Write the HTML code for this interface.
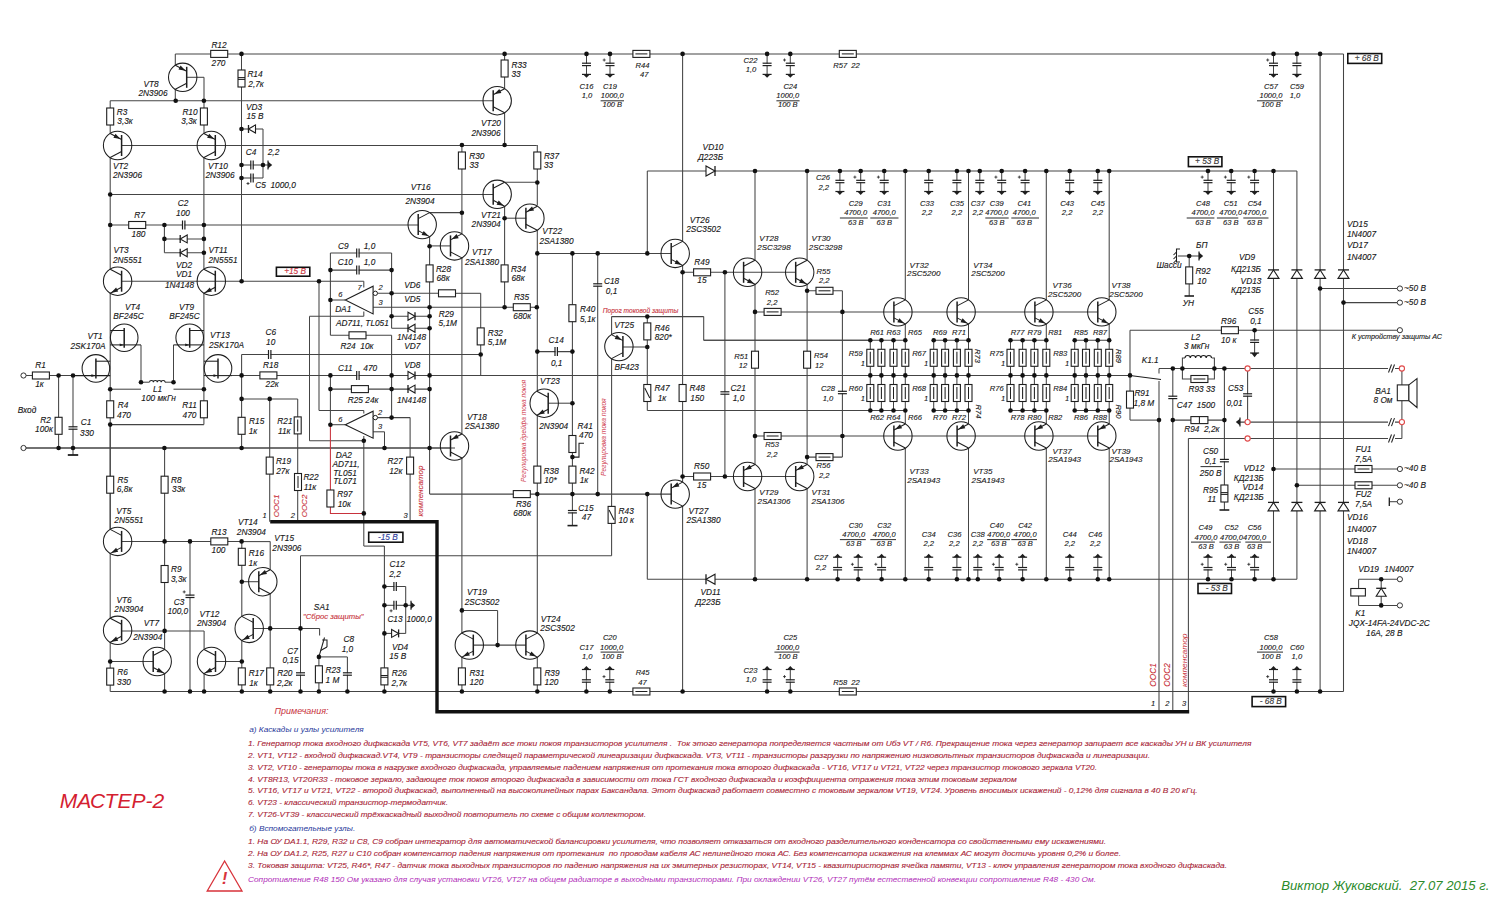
<!DOCTYPE html>
<html><head><meta charset="utf-8"><title>МАСТЕР-2</title>
<style>
html,body{margin:0;padding:0;background:#fff;}
svg{display:block;}
text{font-family:"Liberation Sans",sans-serif;font-style:italic;stroke-width:0.12px;paint-order:stroke;}
.w{fill:none;stroke:#444;stroke-width:1.05;}
.d{fill:#111;}
.r{fill:#fff;stroke:#1e1e1e;stroke-width:1.1;}
.c{fill:none;stroke:#1e1e1e;stroke-width:1.05;}
.f{fill:#1e1e1e;}
.dio{fill:#fff;stroke:#1e1e1e;stroke-width:1.1;}
</style></head><body>
<svg width="1500" height="914" viewBox="0 0 1500 914">
<polyline class="w" points="175.3,53.9 1343.5,53.9"/>
<polyline class="w" points="175.3,53.9 175.3,65.3"/>
<polyline class="w" points="186.7,77.3 204,77.3"/>
<polyline class="w" points="204,77.3 204,133.5"/>
<polyline class="w" points="175.3,89.3 175.3,100.7"/>
<polyline class="w" points="241.5,53.9 241.5,281.2"/>
<polyline class="w" points="110.2,100.7 493.2,100.7"/>
<polyline class="w" points="110.2,100.7 110.2,133.5"/>
<polyline class="w" points="121.6,145.5 536.8,145.5"/>
<polyline class="w" points="241.5,129 263,129"/>
<polyline class="w" points="263,129 263,178"/>
<polyline class="w" points="241.5,165 263,165"/>
<polyline class="w" points="263,165 268,165"/>
<polyline class="w" points="241.5,178 263,178"/>
<polyline class="w" points="110.2,157.5 110.2,269.2"/>
<polyline class="w" points="203.9,157.5 203.9,269.2"/>
<polyline class="w" points="110.2,194.5 493.2,194.5"/>
<polyline class="w" points="110.2,225 418.2,225"/>
<polyline class="w" points="164.4,225 164.4,252.7"/>
<polyline class="w" points="164.4,238.9 203.9,238.9"/>
<polyline class="w" points="164.4,252.7 203.9,252.7"/>
<polyline class="w" points="121.6,281.2 363.8,281.2"/>
<polyline class="w" points="363.8,281.2 363.8,287.5"/>
<polyline class="w" points="110.2,293.2 110.2,424.6"/>
<polyline class="w" points="203.9,293.2 203.9,424.6"/>
<polyline class="w" points="141,344.9 141,382.2"/>
<polyline class="w" points="141,382.2 149.5,382.2"/>
<polyline class="w" points="165,382.2 173.5,382.2"/>
<polyline class="w" points="173.5,344.9 173.5,382.2"/>
<polyline class="w" points="110.2,389.2 141,389.2"/>
<polyline class="w" points="173.5,389.2 203.9,389.2"/>
<polyline class="w" points="110.2,424.6 203.9,424.6"/>
<polyline class="w" points="26,375.5 73,375.5"/>
<polyline class="w" points="58.6,375.5 58.6,448"/>
<polyline class="w" points="73,375.5 73,455"/>
<polyline class="w" points="26,448 455,448"/>
<polyline class="w" points="110.2,424.6 110.2,529.4"/>
<polyline class="w" points="241.6,354.5 480.7,354.5"/>
<polyline class="w" points="241.6,354.5 241.6,448"/>
<polyline class="w" points="232,375.4 1130,375.4"/>
<polyline class="w" points="241.6,398.9 297.7,398.9"/>
<polyline class="w" points="297.7,398.9 297.7,521.7"/>
<polyline class="w" points="269.7,398.9 269.7,521.7"/>
<polyline class="w" points="330.4,253 391.6,253"/>
<polyline class="w" points="330.4,253 330.4,335.3"/>
<polyline class="w" points="391.6,253 391.6,328.2"/>
<polyline class="w" points="330.4,270.1 391.6,270.1"/>
<polyline class="w" points="319,281.2 319,410.5"/>
<polyline class="w" points="319,410.5 363.8,410.5"/>
<polyline class="w" points="363.8,410.5 363.8,413.5"/>
<polyline class="w" points="330.4,300 345.3,300"/>
<polyline class="w" points="377.5,293.3 438.5,293.3"/>
<polyline class="w" points="455.5,293.3 480.7,293.3"/>
<polyline class="w" points="480.7,293.3 480.7,375.4"/>
<polyline class="w" points="373.1,307.2 536.8,307.2"/>
<polyline class="w" points="309.5,316.3 363.8,316.3"/>
<polyline class="w" points="363.8,311.5 363.8,316.3"/>
<polyline class="w" points="309.5,316.3 309.5,440.8"/>
<polyline class="w" points="309.5,440.8 363.8,440.8"/>
<polyline class="w" points="363.8,436 363.8,546.1"/>
<polyline class="w" points="363.8,546.1 384.4,546.1"/>
<polyline class="w" points="330.4,335.3 391.6,335.3"/>
<polyline class="w" points="391.6,335.3 391.6,375.4"/>
<polyline class="w" points="391.6,316.3 429.6,316.3"/>
<polyline class="w" points="391.6,328.2 429.6,328.2"/>
<polyline class="w" points="330.4,389.1 429.6,389.1"/>
<polyline class="w" points="391.6,375.4 391.6,417.6"/>
<polyline class="w" points="330.4,375.4 330.4,424.7"/>
<polyline class="w" points="330.4,424.7 345.3,424.7"/>
<polyline class="w" points="377.5,417.6 410.1,417.6"/>
<polyline class="w" points="410.1,417.6 410.1,521.7"/>
<polyline class="w" points="373.1,431.8 384.5,431.8"/>
<polyline class="w" points="384.5,431.8 384.5,448"/>
<polyline class="w" points="504.6,53.9 504.6,88.7"/>
<polyline class="w" points="504.6,112.7 504.6,145"/>
<polyline class="w" points="537.3,145 537.3,205.4"/>
<polyline class="w" points="504.6,182.3 537.3,182.3"/>
<polyline class="w" points="504.6,206.3 504.6,307.2"/>
<polyline class="w" points="504.6,218.2 526.3,218.2"/>
<polyline class="w" points="429.6,212.6 461.9,212.6"/>
<polyline class="w" points="429.6,236.6 429.6,494.1"/>
<polyline class="w" points="429.6,245.9 450.5,245.9"/>
<polyline class="w" points="461.9,145 461.9,233.9"/>
<polyline class="w" points="461.9,257.9 461.9,434"/>
<polyline class="w" points="26,448 450.5,448"/>
<polyline class="w" points="461.9,458 461.9,633.1"/>
<polyline class="w" points="537.3,230.2 537.3,391.2"/>
<polyline class="w" points="537.3,253.4 671.2,253.4"/>
<polyline class="w" points="537.3,351.6 572.4,351.6"/>
<polyline class="w" points="572.4,253.4 572.4,525.6"/>
<polyline class="w" points="548.2,403.2 572.4,403.2"/>
<polyline class="w" points="537.3,415.2 537.3,633.1"/>
<polyline class="w" points="429.6,494.1 671.2,494.1"/>
<polyline class="w" points="597.7,253.4 597.7,494.1"/>
<polyline class="w" points="611.6,316.6 611.6,334.6"/>
<polyline class="w" points="611.6,316.6 703.7,316.6"/>
<polyline class="w" points="703.7,316.6 703.7,340.3"/>
<polyline class="w" points="703.7,340.3 870.3,340.3"/>
<polyline class="w" points="622.9,347 647.3,347"/>
<polyline class="w" points="647.3,316.6 647.3,410.5"/>
<polyline class="w" points="647.3,410.5 870.3,410.5"/>
<polyline class="w" points="611.6,358.6 611.6,555.8"/>
<polyline class="w" points="300.5,555.8 611.6,555.8"/>
<polyline class="w" points="300.5,555.8 300.5,691.5"/>
<polyline class="w" points="647.3,171 647.3,253.4"/>
<polyline class="w" points="647.3,171 1296.9,171"/>
<polyline class="w" points="682.6,53.9 682.6,241.4"/>
<polyline class="w" points="682.6,265.4 682.6,482.1"/>
<polyline class="w" points="682.6,272.3 795.7,272.3"/>
<polyline class="w" points="724.9,272.3 724.9,476.5"/>
<polyline class="w" points="682.6,476.5 795.7,476.5"/>
<polyline class="w" points="682.6,506.1 682.6,691.5"/>
<polyline class="w" points="647.3,494.1 647.3,579.2"/>
<polyline class="w" points="647.3,579.2 1296.9,579.2"/>
<polyline class="w" points="461.9,610.4 497.6,610.4"/>
<polyline class="w" points="497.6,610.4 497.6,645.1"/>
<polyline class="w" points="473.3,645.1 525.9,645.1"/>
<polyline class="w" points="461.9,657.1 461.9,691.5"/>
<polyline class="w" points="537.3,657.1 537.3,691.5"/>
<polyline class="w" points="110.2,424.6 110.2,529.4"/>
<polyline class="w" points="110.2,553.4 110.2,618.3"/>
<polyline class="w" points="110.2,642.3 110.2,691.5"/>
<polyline class="w" points="110.2,661.5 153.2,661.5"/>
<polyline class="w" points="164.6,448 164.6,649.5"/>
<polyline class="w" points="164.6,673.5 164.6,691.5"/>
<polyline class="w" points="121.6,541.4 241.6,541.4"/>
<polyline class="w" points="190,541.4 190,691.5"/>
<polyline class="w" points="121.6,630.9 204.1,630.9"/>
<polyline class="w" points="204.1,630.9 204.1,649.5"/>
<polyline class="w" points="204.1,673.5 204.1,691.5"/>
<polyline class="w" points="215.5,661.5 241.8,661.5"/>
<polyline class="w" points="241.8,541.4 241.8,616.4"/>
<polyline class="w" points="241.8,640.4 241.8,691.5"/>
<polyline class="w" points="241.6,541.6 270.2,541.6"/>
<polyline class="w" points="270.2,541.6 270.2,569.7"/>
<polyline class="w" points="241.8,581.7 258.8,581.7"/>
<polyline class="w" points="270.2,593.7 270.2,691.5"/>
<polyline class="w" points="253.2,628.4 319.6,628.4"/>
<polyline class="w" points="319.6,628.4 319.6,635.5"/>
<polyline class="w" points="318.9,656.9 347.4,656.9"/>
<polyline class="w" points="347.4,656.9 347.4,691.5"/>
<polyline class="w" points="318.9,656.9 318.9,691.5"/>
<polyline class="w" points="384.4,546.1 384.4,691.5"/>
<polyline class="w" points="384.4,586.5 405.7,586.5"/>
<polyline class="w" points="405.7,586.5 405.7,633.4"/>
<polyline class="w" points="384.4,605.3 405.7,605.3"/>
<polyline class="w" points="405.7,605.3 411,605.3"/>
<polyline class="w" points="384.4,633.4 405.7,633.4"/>
<polyline class="w" points="110.2,691.5 1343.5,691.5"/>
<polyline class="w" points="586.5,53.9 586.5,74.4"/>
<polyline class="w" points="610,53.9 610,74.4"/>
<polyline class="w" points="767.1,53.9 767.1,74.4"/>
<polyline class="w" points="790.3,53.9 790.3,74.4"/>
<polyline class="w" points="1273.5,53.9 1273.5,74.4"/>
<polyline class="w" points="1296.9,53.9 1296.9,74.4"/>
<polyline class="w" points="1320.1,53.9 1320.1,691.5"/>
<polyline class="w" points="1343.5,53.9 1343.5,691.5"/>
<polyline class="w" points="839.9,171 839.9,191.5"/>
<polyline class="w" points="860.7,171 860.7,191.5"/>
<polyline class="w" points="884.2,171 884.2,191.5"/>
<polyline class="w" points="928.7,171 928.7,191.5"/>
<polyline class="w" points="956.9,171 956.9,191.5"/>
<polyline class="w" points="979.8,171 979.8,191.5"/>
<polyline class="w" points="1001.7,171 1001.7,191.5"/>
<polyline class="w" points="1025.1,171 1025.1,191.5"/>
<polyline class="w" points="1069.7,171 1069.7,191.5"/>
<polyline class="w" points="1097.8,171 1097.8,191.5"/>
<polyline class="w" points="1208,171 1208,191.5"/>
<polyline class="w" points="1231.2,171 1231.2,191.5"/>
<polyline class="w" points="1254.6,171 1254.6,191.5"/>
<polyline class="w" points="1296.9,171 1296.9,579.2"/>
<polyline class="w" points="1273.5,171 1273.5,579.2"/>
<polyline class="w" points="755,171 755,260.3"/>
<polyline class="w" points="807.1,171 807.1,260.3"/>
<polyline class="w" points="755,284.3 755,464.5"/>
<polyline class="w" points="807.1,284.3 807.1,464.5"/>
<polyline class="w" points="807.1,290.8 842.4,290.8"/>
<polyline class="w" points="842.4,290.8 842.4,457.1"/>
<polyline class="w" points="755,311.9 1097.8,311.9"/>
<polyline class="w" points="755,436 1097.8,436"/>
<polyline class="w" points="807.1,457.1 842.4,457.1"/>
<polyline class="w" points="755,488.5 755,579.2"/>
<polyline class="w" points="807.1,488.5 807.1,579.2"/>
<polyline class="w" points="905.3,171 905.3,299.9"/>
<polyline class="w" points="905.3,323.9 905.3,340.3"/>
<polyline class="w" points="870.3,340.3 905.3,340.3"/>
<polyline class="w" points="870.3,410.5 905.3,410.5"/>
<polyline class="w" points="870.3,340.3 870.3,410.5"/>
<polyline class="w" points="881.4,340.3 881.4,410.5"/>
<polyline class="w" points="893.5,340.3 893.5,410.5"/>
<polyline class="w" points="905.3,340.3 905.3,410.5"/>
<polyline class="w" points="905.3,410.5 905.3,424"/>
<polyline class="w" points="905.3,448 905.3,579.2"/>
<polyline class="w" points="968.5,171 968.5,299.9"/>
<polyline class="w" points="968.5,323.9 968.5,340.3"/>
<polyline class="w" points="933.7,340.3 968.5,340.3"/>
<polyline class="w" points="933.7,410.5 968.5,410.5"/>
<polyline class="w" points="933.7,340.3 933.7,410.5"/>
<polyline class="w" points="945.1,340.3 945.1,410.5"/>
<polyline class="w" points="956.9,340.3 956.9,410.5"/>
<polyline class="w" points="968.5,340.3 968.5,410.5"/>
<polyline class="w" points="968.5,410.5 968.5,424"/>
<polyline class="w" points="968.5,448 968.5,579.2"/>
<polyline class="w" points="1046.3,171 1046.3,299.9"/>
<polyline class="w" points="1046.3,323.9 1046.3,340.3"/>
<polyline class="w" points="1010.5,340.3 1046.3,340.3"/>
<polyline class="w" points="1010.5,410.5 1046.3,410.5"/>
<polyline class="w" points="1010.5,340.3 1010.5,410.5"/>
<polyline class="w" points="1022.6,340.3 1022.6,410.5"/>
<polyline class="w" points="1034.4,340.3 1034.4,410.5"/>
<polyline class="w" points="1046.3,340.3 1046.3,410.5"/>
<polyline class="w" points="1046.3,410.5 1046.3,424"/>
<polyline class="w" points="1046.3,448 1046.3,579.2"/>
<polyline class="w" points="1109.2,171 1109.2,299.9"/>
<polyline class="w" points="1109.2,323.9 1109.2,340.3"/>
<polyline class="w" points="1074.7,340.3 1109.2,340.3"/>
<polyline class="w" points="1074.7,410.5 1109.2,410.5"/>
<polyline class="w" points="1074.7,340.3 1074.7,410.5"/>
<polyline class="w" points="1086,340.3 1086,410.5"/>
<polyline class="w" points="1097.8,340.3 1097.8,410.5"/>
<polyline class="w" points="1109.2,340.3 1109.2,410.5"/>
<polyline class="w" points="1109.2,410.5 1109.2,424"/>
<polyline class="w" points="1109.2,448 1109.2,579.2"/>
<polyline class="w" points="703.7,340.3 870.3,340.3"/>
<polyline class="w" points="837.6,557.2 837.6,579.2"/>
<polyline class="w" points="858.2,557.2 858.2,579.2"/>
<polyline class="w" points="881.6,557.2 881.6,579.2"/>
<polyline class="w" points="928.7,557.2 928.7,579.2"/>
<polyline class="w" points="956.9,557.2 956.9,579.2"/>
<polyline class="w" points="977.8,557.2 977.8,579.2"/>
<polyline class="w" points="999.2,557.2 999.2,579.2"/>
<polyline class="w" points="1022.6,557.2 1022.6,579.2"/>
<polyline class="w" points="1069.7,557.2 1069.7,579.2"/>
<polyline class="w" points="1097.8,557.2 1097.8,579.2"/>
<polyline class="w" points="1208,557.2 1208,579.2"/>
<polyline class="w" points="1231.5,557.2 1231.5,579.2"/>
<polyline class="w" points="1254.6,557.2 1254.6,579.2"/>
<polyline class="w" points="586.4,669.5 586.4,691.5"/>
<polyline class="w" points="609.8,669.5 609.8,691.5"/>
<polyline class="w" points="767.1,669.5 767.1,691.5"/>
<polyline class="w" points="790.3,669.5 790.3,691.5"/>
<polyline class="w" points="1273.5,669.5 1273.5,691.5"/>
<polyline class="w" points="1296.9,669.5 1296.9,691.5"/>
<polyline class="w" points="1320.1,288.5 1397.3,288.5"/>
<polyline class="w" points="1343.5,302.6 1397.3,302.6"/>
<polyline class="w" points="1177.9,256 1199,256"/>
<polyline class="w" points="1189.2,256 1189.2,296"/>
<polyline class="w" points="1130,330.2 1397.3,330.2"/>
<polyline class="w" points="1254.6,330.2 1254.6,353"/>
<polyline class="w" points="1130,330.2 1130,420.1"/>
<polyline class="w" points="1159,368.5 1159,373.5"/>
<polyline class="w" points="1159,381 1159,711.7"/>
<polyline class="w" points="1130,420.1 1159,420.1"/>
<polyline class="w" points="1159,368.5 1401.9,368.5"/>
<polyline class="w" points="1172.8,368.5 1172.8,711.7"/>
<polyline class="w" points="1182.4,368.5 1182.4,358 1185,358"/>
<polyline class="w" points="1211.5,358 1214.4,358 1214.4,368.5"/>
<polyline class="w" points="1182.4,368.5 1182.4,379 1214.4,379 1214.4,368.5"/>
<polyline class="w" points="1172.8,420.1 1224.4,420.1"/>
<polyline class="w" points="1224.4,368.5 1224.4,510"/>
<polyline class="w" points="1247.6,368.5 1247.6,422.1"/>
<polyline class="w" points="1240,422.1 1401.9,422.1"/>
<polyline class="w" points="1188.4,438.5 1401.9,438.5"/>
<polyline class="w" points="1188.4,438.5 1188.4,711.7"/>
<polyline class="w" points="1401.9,368.5 1401.9,384.9"/>
<polyline class="w" points="1401.9,400.7 1401.9,438.5"/>
<polyline class="w" points="1273.5,469 1397.3,469"/>
<polyline class="w" points="1296.9,485.3 1397.3,485.3"/>
<polyline class="w" points="1389.3,501.7 1397.3,501.7"/>
<polyline class="w" points="1358.6,579.2 1397.3,579.2"/>
<polyline class="w" points="1358.6,579.2 1358.6,605.4"/>
<polyline class="w" points="1358.6,605.4 1397.3,605.4"/>
<polyline class="w" points="1381.2,579.2 1381.2,605.4"/>
<circle class="c" cx="182.7" cy="77.3" r="14.2"/>
<polyline class="w" points="186.7,66.8 186.7,87.8" style="stroke:#1e1e1e;stroke-width:1.5"/>
<polyline class="w" points="186.7,71.3 175.3,65.3" style="stroke:#1e1e1e"/>
<polyline class="w" points="186.7,83.3 175.3,89.3" style="stroke:#1e1e1e"/>
<polygon class="f" points="185.6,70.7 178.5,69.6 180.6,65.5"/>
<rect class="r" x="210.7" y="50.4" width="17" height="7"/>
<rect class="r" x="238" y="70" width="7" height="17"/>
<polyline class="w" points="238,77.6 245,77.6" style="stroke:#1e1e1e"/>
<polyline class="w" points="238,79.4 245,79.4" style="stroke:#1e1e1e"/>
<rect class="r" x="106.7" y="108" width="7" height="17"/>
<rect class="r" x="200.4" y="108" width="7" height="17"/>
<circle class="c" cx="117.6" cy="145.5" r="14.2"/>
<polyline class="w" points="121.6,135 121.6,156" style="stroke:#1e1e1e;stroke-width:1.5"/>
<polyline class="w" points="121.6,139.5 110.2,133.5" style="stroke:#1e1e1e"/>
<polyline class="w" points="121.6,151.5 110.2,157.5" style="stroke:#1e1e1e"/>
<polygon class="f" points="120.5,138.9 113.4,137.8 115.5,133.7"/>
<circle class="c" cx="211.3" cy="145.5" r="14.2"/>
<polyline class="w" points="215.3,135 215.3,156" style="stroke:#1e1e1e;stroke-width:1.5"/>
<polyline class="w" points="215.3,139.5 203.9,133.5" style="stroke:#1e1e1e"/>
<polyline class="w" points="215.3,151.5 203.9,157.5" style="stroke:#1e1e1e"/>
<polygon class="f" points="214.2,138.9 207.1,137.8 209.2,133.7"/>
<polygon class="dio" points="255.5,125 255.5,133 248.5,129"/>
<polyline class="w" points="248.5,125 248.5,133" style="stroke:#1e1e1e;stroke-width:1.3"/>
<rect x="251.3" y="160.5" width="1.4" height="9" fill="#fff"/>
<polyline class="w" points="250.8,160.5 250.8,169.5" style="stroke:#1e1e1e;stroke-width:1.2"/>
<polyline class="w" points="253.2,160.5 253.2,169.5" style="stroke:#1e1e1e;stroke-width:1.2"/>
<polyline class="w" points="268,160.5 268,169.5" style="stroke:#1e1e1e;stroke-width:1.2"/>
<polygon class="f" points="268,161.6 268,168.4 272.2,165"/>
<rect x="251.3" y="173.5" width="1.4" height="9" fill="#fff"/>
<polyline class="w" points="250.8,173.5 250.8,182.5" style="stroke:#1e1e1e;stroke-width:1.2"/>
<polyline class="w" points="253.2,173.5 253.2,182.5" style="stroke:#1e1e1e;stroke-width:1.2"/>
<polyline class="w" points="246.5,183.5 249.5,183.5" style="stroke:#222;stroke-width:0.8"/>
<polyline class="w" points="248,182 248,185" style="stroke:#222;stroke-width:0.8"/>
<rect class="r" x="128.7" y="221.5" width="17" height="7"/>
<rect x="183" y="220.5" width="1.4" height="9" fill="#fff"/>
<polyline class="w" points="182.5,220.5 182.5,229.5" style="stroke:#1e1e1e;stroke-width:1.2"/>
<polyline class="w" points="184.9,220.5 184.9,229.5" style="stroke:#1e1e1e;stroke-width:1.2"/>
<polygon class="dio" points="187.2,234.9 187.2,242.9 180.2,238.9"/>
<polyline class="w" points="180.2,234.9 180.2,242.9" style="stroke:#1e1e1e;stroke-width:1.3"/>
<polygon class="dio" points="187.2,248.7 187.2,256.7 180.2,252.7"/>
<polyline class="w" points="180.2,248.7 180.2,256.7" style="stroke:#1e1e1e;stroke-width:1.3"/>
<circle class="c" cx="117.6" cy="281.2" r="14.2"/>
<polyline class="w" points="121.6,270.7 121.6,291.7" style="stroke:#1e1e1e;stroke-width:1.5"/>
<polyline class="w" points="121.6,275.2 110.2,269.2" style="stroke:#1e1e1e"/>
<polyline class="w" points="121.6,287.2 110.2,293.2" style="stroke:#1e1e1e"/>
<polygon class="f" points="111.1,292.7 116.1,287.5 118.2,291.6"/>
<circle class="c" cx="211.3" cy="281.2" r="14.2"/>
<polyline class="w" points="215.3,270.7 215.3,291.7" style="stroke:#1e1e1e;stroke-width:1.5"/>
<polyline class="w" points="215.3,275.2 203.9,269.2" style="stroke:#1e1e1e"/>
<polyline class="w" points="215.3,287.2 203.9,293.2" style="stroke:#1e1e1e"/>
<polygon class="f" points="204.8,292.7 209.8,287.5 211.9,291.6"/>
<circle class="c" cx="124.2" cy="337.7" r="13.8"/>
<polyline class="w" points="124.2,327.9 124.2,347.7" style="stroke:#1e1e1e;stroke-width:1.5"/>
<polyline class="w" points="124.2,330.5 110.2,330.5" style="stroke:#1e1e1e"/>
<polyline class="w" points="110.2,344.9 141,344.9" style="stroke:#1e1e1e"/>
<polygon class="f" points="119.7,343.5 119.7,346.3 123.7,344.9"/>
<circle class="c" cx="189.7" cy="337.7" r="13.8"/>
<polyline class="w" points="189.7,327.9 189.7,347.7" style="stroke:#1e1e1e;stroke-width:1.5"/>
<polyline class="w" points="189.7,330.5 203.9,330.5" style="stroke:#1e1e1e"/>
<polyline class="w" points="173.5,344.9 203.9,344.9" style="stroke:#1e1e1e"/>
<polygon class="f" points="185.2,343.5 185.2,346.3 189.2,344.9"/>
<circle class="c" cx="95.9" cy="368.4" r="13.8"/>
<polyline class="w" points="95.9,358.6 95.9,378.4" style="stroke:#1e1e1e;stroke-width:1.5"/>
<polyline class="w" points="95.9,361.2 110.2,361.2" style="stroke:#1e1e1e"/>
<polyline class="w" points="73,375.6 110.2,375.6" style="stroke:#1e1e1e"/>
<polygon class="f" points="91.4,374.2 91.4,377 95.4,375.6"/>
<circle class="c" cx="218" cy="368.4" r="13.8"/>
<polyline class="w" points="218,358.6 218,378.4" style="stroke:#1e1e1e;stroke-width:1.5"/>
<polyline class="w" points="218,361.2 203.9,361.2" style="stroke:#1e1e1e"/>
<polyline class="w" points="203.9,375.6 232,375.6" style="stroke:#1e1e1e"/>
<polygon class="f" points="213.5,374.2 213.5,377 217.5,375.6"/>
<rect x="149.5" y="378.2" width="15.5" height="5" fill="#fff"/>
<path d="M149.5,382.2 a1.9,1.7 0 0 1 3.9,0 a1.9,1.7 0 0 1 3.9,0 a1.9,1.7 0 0 1 3.9,0 a1.9,1.7 0 0 1 3.9,0" fill="none" stroke="#1e1e1e" stroke-width="1.1"/>
<rect class="r" x="106.7" y="400.8" width="7" height="17"/>
<rect class="r" x="200.4" y="400.8" width="7" height="17"/>
<circle cx="23.5" cy="375.5" r="2.6" fill="#fff" stroke="#333" stroke-width="1"/>
<rect class="r" x="32.4" y="372" width="17" height="7"/>
<rect class="r" x="55.1" y="417.3" width="7" height="17"/>
<rect x="68.5" y="427.3" width="9" height="1.4" fill="#fff"/>
<polyline class="w" points="68.5,426.8 77.5,426.8" style="stroke:#1e1e1e;stroke-width:1.2"/>
<polyline class="w" points="68.5,429.2 77.5,429.2" style="stroke:#1e1e1e;stroke-width:1.2"/>
<polyline class="w" points="67.8,455 78.2,455" style="stroke:#1e1e1e;stroke-width:1.8"/>
<circle cx="23.5" cy="448" r="2.6" fill="#fff" stroke="#333" stroke-width="1"/>
<rect x="269" y="350" width="1.4" height="9" fill="#fff"/>
<polyline class="w" points="268.5,350 268.5,359" style="stroke:#1e1e1e;stroke-width:1.2"/>
<polyline class="w" points="270.9,350 270.9,359" style="stroke:#1e1e1e;stroke-width:1.2"/>
<rect class="r" x="259.9" y="371.9" width="17" height="7"/>
<rect class="r" x="238.1" y="417.3" width="7" height="17"/>
<rect class="r" x="294.2" y="416.9" width="7" height="17"/>
<polyline class="w" points="297.7,419.4 297.7,431.4" style="stroke:#1e1e1e"/>
<rect class="r" x="266.2" y="457.1" width="7" height="17"/>
<rect class="r" x="294.5" y="473.5" width="7" height="17"/>
<polyline class="w" points="298,476 298,488" style="stroke:#1e1e1e"/>
<polyline class="w" points="270.2,521.7 437,521.7 437,711.7 1189.2,711.7" style="stroke:#111;stroke-width:3.4"/>
<rect x="357.2" y="248.5" width="1.4" height="9" fill="#fff"/>
<polyline class="w" points="356.7,248.5 356.7,257.5" style="stroke:#1e1e1e;stroke-width:1.2"/>
<polyline class="w" points="359.1,248.5 359.1,257.5" style="stroke:#1e1e1e;stroke-width:1.2"/>
<rect x="357.2" y="265.6" width="1.4" height="9" fill="#fff"/>
<polyline class="w" points="356.7,265.6 356.7,274.6" style="stroke:#1e1e1e;stroke-width:1.2"/>
<polyline class="w" points="359.1,265.6 359.1,274.6" style="stroke:#1e1e1e;stroke-width:1.2"/>
<rect x="276.4" y="267.3" width="33.4" height="8.9" fill="#fff" stroke="#111" stroke-width="1.6"/>
<polygon class="dio" points="345.3,300 373.1,286.2 373.1,313.9"/>
<circle cx="375.3" cy="293.3" r="2.2" fill="#fff" stroke="#1e1e1e" stroke-width="1"/>
<rect class="r" x="438.5" y="289.8" width="17" height="7"/>
<rect class="r" x="477.2" y="327.9" width="7" height="17"/>
<rect class="r" x="513.3" y="303.7" width="17" height="7"/>
<rect class="r" x="349" y="331.8" width="17" height="7"/>
<polygon class="dio" points="408,312.3 408,320.3 415,316.3"/>
<polyline class="w" points="415,312.3 415,320.3" style="stroke:#1e1e1e;stroke-width:1.3"/>
<polygon class="dio" points="415,324.2 415,332.2 408,328.2"/>
<polyline class="w" points="408,324.2 408,332.2" style="stroke:#1e1e1e;stroke-width:1.3"/>
<rect x="357.2" y="370.9" width="1.4" height="9" fill="#fff"/>
<polyline class="w" points="356.7,370.9 356.7,379.9" style="stroke:#1e1e1e;stroke-width:1.2"/>
<polyline class="w" points="359.1,370.9 359.1,379.9" style="stroke:#1e1e1e;stroke-width:1.2"/>
<polygon class="dio" points="408,371.4 408,379.4 415,375.4"/>
<polyline class="w" points="415,371.4 415,379.4" style="stroke:#1e1e1e;stroke-width:1.3"/>
<rect class="r" x="351.4" y="385.6" width="17" height="7"/>
<polygon class="dio" points="415,385.1 415,393.1 408,389.1"/>
<polyline class="w" points="408,385.1 408,393.1" style="stroke:#1e1e1e;stroke-width:1.3"/>
<polyline class="w" points="330.4,424.7 330.4,513.4 363.8,513.4" style="stroke:#c8323c"/>
<polygon class="dio" points="345.3,424.7 373.1,411.2 373.1,438.2"/>
<circle cx="375.3" cy="417.6" r="2.2" fill="#fff" stroke="#1e1e1e" stroke-width="1"/>
<rect class="r" x="406.6" y="457.1" width="7" height="17"/>
<rect class="r" x="326.9" y="490" width="7" height="17"/>
<rect class="r" x="501.1" y="60" width="7" height="17"/>
<circle class="c" cx="497.2" cy="100.7" r="14.2"/>
<polyline class="w" points="493.2,90.2 493.2,111.2" style="stroke:#1e1e1e;stroke-width:1.5"/>
<polyline class="w" points="493.2,94.7 504.6,88.7" style="stroke:#1e1e1e"/>
<polyline class="w" points="493.2,106.7 504.6,112.7" style="stroke:#1e1e1e"/>
<polygon class="f" points="494.3,94.1 499.3,88.9 501.4,93"/>
<rect class="r" x="458.4" y="152" width="7" height="17"/>
<rect class="r" x="533.8" y="152" width="7" height="17"/>
<circle class="c" cx="497.2" cy="194.3" r="14.2"/>
<polyline class="w" points="493.2,183.8 493.2,204.8" style="stroke:#1e1e1e;stroke-width:1.5"/>
<polyline class="w" points="493.2,188.3 504.6,182.3" style="stroke:#1e1e1e"/>
<polyline class="w" points="493.2,200.3 504.6,206.3" style="stroke:#1e1e1e"/>
<polygon class="f" points="503.7,205.8 496.6,204.7 498.7,200.6"/>
<circle class="c" cx="529.9" cy="218.2" r="14.2"/>
<polyline class="w" points="525.9,207.7 525.9,228.7" style="stroke:#1e1e1e;stroke-width:1.5"/>
<polyline class="w" points="525.9,212.2 537.3,206.2" style="stroke:#1e1e1e"/>
<polyline class="w" points="525.9,224.2 537.3,230.2" style="stroke:#1e1e1e"/>
<polygon class="f" points="527,211.6 532,206.4 534.1,210.5"/>
<circle class="c" cx="422.2" cy="224.6" r="14.2"/>
<polyline class="w" points="418.2,214.1 418.2,235.1" style="stroke:#1e1e1e;stroke-width:1.5"/>
<polyline class="w" points="418.2,218.6 429.6,212.6" style="stroke:#1e1e1e"/>
<polyline class="w" points="418.2,230.6 429.6,236.6" style="stroke:#1e1e1e"/>
<polygon class="f" points="428.7,236.1 421.6,235 423.7,230.9"/>
<circle class="c" cx="454.5" cy="245.9" r="14.2"/>
<polyline class="w" points="450.5,235.4 450.5,256.4" style="stroke:#1e1e1e;stroke-width:1.5"/>
<polyline class="w" points="450.5,239.9 461.9,233.9" style="stroke:#1e1e1e"/>
<polyline class="w" points="450.5,251.9 461.9,257.9" style="stroke:#1e1e1e"/>
<polygon class="f" points="451.6,239.3 456.6,234.1 458.7,238.2"/>
<rect class="r" x="426.1" y="264.9" width="7" height="17"/>
<rect class="r" x="501.1" y="264.9" width="7" height="17"/>
<circle class="c" cx="454.5" cy="446" r="14.2"/>
<polyline class="w" points="450.5,435.5 450.5,456.5" style="stroke:#1e1e1e;stroke-width:1.5"/>
<polyline class="w" points="450.5,440 461.9,434" style="stroke:#1e1e1e"/>
<polyline class="w" points="450.5,452 461.9,458" style="stroke:#1e1e1e"/>
<polygon class="f" points="451.6,439.4 456.6,434.2 458.7,438.3"/>
<rect x="555.5" y="347.1" width="1.4" height="9" fill="#fff"/>
<polyline class="w" points="555,347.1 555,356.1" style="stroke:#1e1e1e;stroke-width:1.2"/>
<polyline class="w" points="557.4,347.1 557.4,356.1" style="stroke:#1e1e1e;stroke-width:1.2"/>
<rect class="r" x="568.9" y="304.7" width="7" height="17"/>
<circle class="c" cx="544.2" cy="403.2" r="14.2"/>
<polyline class="w" points="548.2,392.7 548.2,413.7" style="stroke:#1e1e1e;stroke-width:1.5"/>
<polyline class="w" points="548.2,397.2 536.8,391.2" style="stroke:#1e1e1e"/>
<polyline class="w" points="548.2,409.2 536.8,415.2" style="stroke:#1e1e1e"/>
<polygon class="f" points="537.7,414.7 542.7,409.5 544.8,413.6"/>
<rect class="r" x="568.9" y="435.5" width="7" height="17"/>
<polyline class="w" points="584,443.2 579,443.2 579,457.1 572.4,457.1" style="stroke:#1e1e1e"/>
<rect class="r" x="568.9" y="466.1" width="7" height="17"/>
<rect x="567.9" y="511" width="9" height="1.4" fill="#fff"/>
<polyline class="w" points="567.9,510.5 576.9,510.5" style="stroke:#1e1e1e;stroke-width:1.2"/>
<polyline class="w" points="567.9,512.9 576.9,512.9" style="stroke:#1e1e1e;stroke-width:1.2"/>
<polyline class="w" points="567.5,525.6 577.5,525.6" style="stroke:#1e1e1e;stroke-width:1.6"/>
<rect class="r" x="533.8" y="466.1" width="7" height="17"/>
<rect class="r" x="513.3" y="490.6" width="17" height="7"/>
<rect x="593.2" y="284.3" width="9" height="1.4" fill="#fff"/>
<polyline class="w" points="593.2,283.8 602.2,283.8" style="stroke:#1e1e1e;stroke-width:1.2"/>
<polyline class="w" points="593.2,286.2 602.2,286.2" style="stroke:#1e1e1e;stroke-width:1.2"/>
<circle class="c" cx="618.9" cy="346.6" r="14.2"/>
<polyline class="w" points="622.9,336.1 622.9,357.1" style="stroke:#1e1e1e;stroke-width:1.5"/>
<polyline class="w" points="622.9,340.6 611.5,334.6" style="stroke:#1e1e1e"/>
<polyline class="w" points="622.9,352.6 611.5,358.6" style="stroke:#1e1e1e"/>
<polygon class="f" points="621.8,340 614.7,338.9 616.8,334.8"/>
<rect class="r" x="643.8" y="322.9" width="7" height="17"/>
<rect class="r" x="643.8" y="384.5" width="7" height="17"/>
<polyline class="w" points="644.8,388 649.8,398" style="stroke:#1e1e1e"/>
<rect class="r" x="608.1" y="506.4" width="7" height="17"/>
<polyline class="w" points="609.1,509.9 614.1,519.9" style="stroke:#1e1e1e"/>
<polygon class="dio" points="706,166 706,176 715,171"/>
<polyline class="w" points="715,166 715,176" style="stroke:#1e1e1e;stroke-width:1.3"/>
<circle class="c" cx="675.2" cy="253.4" r="14.2"/>
<polyline class="w" points="671.2,242.9 671.2,263.9" style="stroke:#1e1e1e;stroke-width:1.5"/>
<polyline class="w" points="671.2,247.4 682.6,241.4" style="stroke:#1e1e1e"/>
<polyline class="w" points="671.2,259.4 682.6,265.4" style="stroke:#1e1e1e"/>
<polygon class="f" points="681.7,264.9 674.6,263.8 676.7,259.7"/>
<rect class="r" x="693.6" y="268.8" width="17" height="7"/>
<rect x="720.4" y="392.3" width="9" height="1.4" fill="#fff"/>
<polyline class="w" points="720.4,391.8 729.4,391.8" style="stroke:#1e1e1e;stroke-width:1.2"/>
<polyline class="w" points="720.4,394.2 729.4,394.2" style="stroke:#1e1e1e;stroke-width:1.2"/>
<rect class="r" x="679.1" y="384.5" width="7" height="17"/>
<circle class="c" cx="675.2" cy="494.1" r="14.2"/>
<polyline class="w" points="671.2,483.6 671.2,504.6" style="stroke:#1e1e1e;stroke-width:1.5"/>
<polyline class="w" points="671.2,488.1 682.6,482.1" style="stroke:#1e1e1e"/>
<polyline class="w" points="671.2,500.1 682.6,506.1" style="stroke:#1e1e1e"/>
<polygon class="f" points="672.3,487.5 677.3,482.3 679.4,486.4"/>
<rect class="r" x="693.6" y="473" width="17" height="7"/>
<polygon class="dio" points="715,574.2 715,584.2 706,579.2"/>
<polyline class="w" points="706,574.2 706,584.2" style="stroke:#1e1e1e;stroke-width:1.3"/>
<circle class="c" cx="469.3" cy="645.1" r="14.2"/>
<polyline class="w" points="473.3,634.6 473.3,655.6" style="stroke:#1e1e1e;stroke-width:1.5"/>
<polyline class="w" points="473.3,639.1 461.9,633.1" style="stroke:#1e1e1e"/>
<polyline class="w" points="473.3,651.1 461.9,657.1" style="stroke:#1e1e1e"/>
<polygon class="f" points="462.8,656.6 467.8,651.4 469.9,655.5"/>
<circle class="c" cx="529.9" cy="645.1" r="14.2"/>
<polyline class="w" points="525.9,634.6 525.9,655.6" style="stroke:#1e1e1e;stroke-width:1.5"/>
<polyline class="w" points="525.9,639.1 537.3,633.1" style="stroke:#1e1e1e"/>
<polyline class="w" points="525.9,651.1 537.3,657.1" style="stroke:#1e1e1e"/>
<polygon class="f" points="536.4,656.6 529.3,655.5 531.4,651.4"/>
<rect class="r" x="458.4" y="667.9" width="7" height="17"/>
<rect class="r" x="533.8" y="667.9" width="7" height="17"/>
<rect class="r" x="106.7" y="476.2" width="7" height="17"/>
<circle class="c" cx="117.6" cy="541.4" r="14.2"/>
<polyline class="w" points="121.6,530.9 121.6,551.9" style="stroke:#1e1e1e;stroke-width:1.5"/>
<polyline class="w" points="121.6,535.4 110.2,529.4" style="stroke:#1e1e1e"/>
<polyline class="w" points="121.6,547.4 110.2,553.4" style="stroke:#1e1e1e"/>
<polygon class="f" points="111.1,552.9 116.1,547.7 118.2,551.8"/>
<circle class="c" cx="117.6" cy="630.3" r="14.2"/>
<polyline class="w" points="121.6,619.8 121.6,640.8" style="stroke:#1e1e1e;stroke-width:1.5"/>
<polyline class="w" points="121.6,624.3 110.2,618.3" style="stroke:#1e1e1e"/>
<polyline class="w" points="121.6,636.3 110.2,642.3" style="stroke:#1e1e1e"/>
<polygon class="f" points="111.1,641.8 116.1,636.6 118.2,640.7"/>
<rect class="r" x="106.7" y="668.1" width="7" height="17"/>
<circle class="c" cx="157.2" cy="661.5" r="14.2"/>
<polyline class="w" points="153.2,651 153.2,672" style="stroke:#1e1e1e;stroke-width:1.5"/>
<polyline class="w" points="153.2,655.5 164.6,649.5" style="stroke:#1e1e1e"/>
<polyline class="w" points="153.2,667.5 164.6,673.5" style="stroke:#1e1e1e"/>
<polygon class="f" points="163.7,673 156.6,671.9 158.7,667.8"/>
<rect class="r" x="161.1" y="476.2" width="7" height="17"/>
<rect class="r" x="161.1" y="565.5" width="7" height="17"/>
<rect class="r" x="210.8" y="537.9" width="17" height="7"/>
<rect x="185.5" y="595.6" width="9" height="1.4" fill="#fff"/>
<polyline class="w" points="185.5,595.1 194.5,595.1" style="stroke:#1e1e1e;stroke-width:1.2"/>
<polyline class="w" points="185.5,597.5 194.5,597.5" style="stroke:#1e1e1e;stroke-width:1.2"/>
<polyline class="w" points="182.7,591.9 185.7,591.9" style="stroke:#222;stroke-width:0.8"/>
<polyline class="w" points="184.2,590.4 184.2,593.4" style="stroke:#222;stroke-width:0.8"/>
<circle class="c" cx="211.5" cy="661.5" r="14.2"/>
<polyline class="w" points="215.5,651 215.5,672" style="stroke:#1e1e1e;stroke-width:1.5"/>
<polyline class="w" points="215.5,655.5 204.1,649.5" style="stroke:#1e1e1e"/>
<polyline class="w" points="215.5,667.5 204.1,673.5" style="stroke:#1e1e1e"/>
<polygon class="f" points="205,673 210,667.8 212.1,671.9"/>
<rect class="r" x="238.3" y="548.3" width="7" height="17"/>
<circle class="c" cx="249.2" cy="628.4" r="14.2"/>
<polyline class="w" points="253.2,617.9 253.2,638.9" style="stroke:#1e1e1e;stroke-width:1.5"/>
<polyline class="w" points="253.2,622.4 241.8,616.4" style="stroke:#1e1e1e"/>
<polyline class="w" points="253.2,634.4 241.8,640.4" style="stroke:#1e1e1e"/>
<polygon class="f" points="242.7,639.9 247.7,634.7 249.8,638.8"/>
<rect class="r" x="238.3" y="667.9" width="7" height="17"/>
<circle class="c" cx="262.8" cy="581.7" r="14.2"/>
<polyline class="w" points="258.8,571.2 258.8,592.2" style="stroke:#1e1e1e;stroke-width:1.5"/>
<polyline class="w" points="258.8,575.7 270.2,569.7" style="stroke:#1e1e1e"/>
<polyline class="w" points="258.8,587.7 270.2,593.7" style="stroke:#1e1e1e"/>
<polygon class="f" points="259.9,575.1 264.9,569.9 267,574"/>
<rect class="r" x="266.7" y="667.9" width="7" height="17"/>
<rect x="296" y="673.3" width="9" height="1.4" fill="#fff"/>
<polyline class="w" points="296,672.8 305,672.8" style="stroke:#1e1e1e;stroke-width:1.2"/>
<polyline class="w" points="296,675.2 305,675.2" style="stroke:#1e1e1e;stroke-width:1.2"/>
<polyline class="w" points="318.9,656.9 324.5,637.5" style="stroke:#1e1e1e"/>
<polyline class="w" points="322.2,640 327,640 327,647" style="stroke:#1e1e1e"/>
<polyline class="w" points="320.6,650.5 327,647" style="stroke:#1e1e1e"/>
<rect x="342.9" y="673.3" width="9" height="1.4" fill="#fff"/>
<polyline class="w" points="342.9,672.8 351.9,672.8" style="stroke:#1e1e1e;stroke-width:1.2"/>
<polyline class="w" points="342.9,675.2 351.9,675.2" style="stroke:#1e1e1e;stroke-width:1.2"/>
<rect class="r" x="315.4" y="665.8" width="7" height="17"/>
<rect x="368.7" y="532.3" width="34.2" height="9.9" fill="#fff" stroke="#111" stroke-width="1.6"/>
<rect x="394.4" y="582" width="1.4" height="9" fill="#fff"/>
<polyline class="w" points="393.9,582 393.9,591" style="stroke:#1e1e1e;stroke-width:1.2"/>
<polyline class="w" points="396.3,582 396.3,591" style="stroke:#1e1e1e;stroke-width:1.2"/>
<rect x="394.4" y="600.8" width="1.4" height="9" fill="#fff"/>
<polyline class="w" points="393.9,600.8 393.9,609.8" style="stroke:#1e1e1e;stroke-width:1.2"/>
<polyline class="w" points="396.3,600.8 396.3,609.8" style="stroke:#1e1e1e;stroke-width:1.2"/>
<polyline class="w" points="389.6,610.8 392.6,610.8" style="stroke:#222;stroke-width:0.8"/>
<polyline class="w" points="391.1,609.3 391.1,612.3" style="stroke:#222;stroke-width:0.8"/>
<polyline class="w" points="411,600.8 411,609.8" style="stroke:#1e1e1e;stroke-width:1.2"/>
<polygon class="f" points="411,601.9 411,608.7 415.2,605.3"/>
<polygon class="dio" points="391.6,629.4 391.6,637.4 398.6,633.4"/>
<polyline class="w" points="398.6,629.4 398.6,637.4" style="stroke:#1e1e1e;stroke-width:1.3"/>
<rect class="r" x="380.9" y="667.9" width="7" height="17"/>
<polyline class="w" points="380.9,675.5 387.9,675.5" style="stroke:#1e1e1e"/>
<polyline class="w" points="380.9,677.3 387.9,677.3" style="stroke:#1e1e1e"/>
<rect x="582" y="63.7" width="9" height="1.4" fill="#fff"/>
<polyline class="w" points="582,63.2 591,63.2" style="stroke:#1e1e1e;stroke-width:1.2"/>
<polyline class="w" points="582,65.6 591,65.6" style="stroke:#1e1e1e;stroke-width:1.2"/>
<polyline class="w" points="582,74.4 591,74.4" style="stroke:#1e1e1e;stroke-width:1.2"/>
<polygon class="f" points="583.2,74.4 589.8,74.4 586.5,77.8"/>
<rect x="605.5" y="63.7" width="9" height="1.4" fill="#fff"/>
<polyline class="w" points="605.5,63.2 614.5,63.2" style="stroke:#1e1e1e;stroke-width:1.2"/>
<polyline class="w" points="605.5,65.6 614.5,65.6" style="stroke:#1e1e1e;stroke-width:1.2"/>
<polyline class="w" points="602.7,60 605.7,60" style="stroke:#222;stroke-width:0.8"/>
<polyline class="w" points="604.2,58.5 604.2,61.5" style="stroke:#222;stroke-width:0.8"/>
<polyline class="w" points="605.5,74.4 614.5,74.4" style="stroke:#1e1e1e;stroke-width:1.2"/>
<polygon class="f" points="606.7,74.4 613.3,74.4 610,77.8"/>
<polyline class="w" points="600.6,100.8 624,100.8" style="stroke:#333"/>
<rect class="r" x="632.9" y="50.4" width="17" height="7"/>
<polyline class="w" points="635.4,53.9 647.4,53.9" style="stroke:#1e1e1e"/>
<rect x="762.6" y="63.7" width="9" height="1.4" fill="#fff"/>
<polyline class="w" points="762.6,63.2 771.6,63.2" style="stroke:#1e1e1e;stroke-width:1.2"/>
<polyline class="w" points="762.6,65.6 771.6,65.6" style="stroke:#1e1e1e;stroke-width:1.2"/>
<polyline class="w" points="762.6,74.4 771.6,74.4" style="stroke:#1e1e1e;stroke-width:1.2"/>
<polygon class="f" points="763.8,74.4 770.4,74.4 767.1,77.8"/>
<rect x="785.8" y="63.7" width="9" height="1.4" fill="#fff"/>
<polyline class="w" points="785.8,63.2 794.8,63.2" style="stroke:#1e1e1e;stroke-width:1.2"/>
<polyline class="w" points="785.8,65.6 794.8,65.6" style="stroke:#1e1e1e;stroke-width:1.2"/>
<polyline class="w" points="783,60 786,60" style="stroke:#222;stroke-width:0.8"/>
<polyline class="w" points="784.5,58.5 784.5,61.5" style="stroke:#222;stroke-width:0.8"/>
<polyline class="w" points="785.8,74.4 794.8,74.4" style="stroke:#1e1e1e;stroke-width:1.2"/>
<polygon class="f" points="787,74.4 793.6,74.4 790.3,77.8"/>
<polyline class="w" points="776.4,100.8 799.6,100.8" style="stroke:#333"/>
<rect class="r" x="839.3" y="50.4" width="17" height="7"/>
<polyline class="w" points="841.8,53.9 853.8,53.9" style="stroke:#1e1e1e"/>
<rect x="1269" y="63.7" width="9" height="1.4" fill="#fff"/>
<polyline class="w" points="1269,63.2 1278,63.2" style="stroke:#1e1e1e;stroke-width:1.2"/>
<polyline class="w" points="1269,65.6 1278,65.6" style="stroke:#1e1e1e;stroke-width:1.2"/>
<polyline class="w" points="1266.2,60 1269.2,60" style="stroke:#222;stroke-width:0.8"/>
<polyline class="w" points="1267.7,58.5 1267.7,61.5" style="stroke:#222;stroke-width:0.8"/>
<polyline class="w" points="1269,74.4 1278,74.4" style="stroke:#1e1e1e;stroke-width:1.2"/>
<polygon class="f" points="1270.2,74.4 1276.8,74.4 1273.5,77.8"/>
<rect x="1292.4" y="63.7" width="9" height="1.4" fill="#fff"/>
<polyline class="w" points="1292.4,63.2 1301.4,63.2" style="stroke:#1e1e1e;stroke-width:1.2"/>
<polyline class="w" points="1292.4,65.6 1301.4,65.6" style="stroke:#1e1e1e;stroke-width:1.2"/>
<polyline class="w" points="1292.4,74.4 1301.4,74.4" style="stroke:#1e1e1e;stroke-width:1.2"/>
<polygon class="f" points="1293.6,74.4 1300.2,74.4 1296.9,77.8"/>
<polyline class="w" points="1257,100.8 1283,100.8" style="stroke:#333"/>
<rect x="1347.8" y="53.6" width="33.9" height="9.8" fill="#fff" stroke="#111" stroke-width="1.6"/>
<rect x="835.4" y="180.8" width="9" height="1.4" fill="#fff"/>
<polyline class="w" points="835.4,180.3 844.4,180.3" style="stroke:#1e1e1e;stroke-width:1.2"/>
<polyline class="w" points="835.4,182.7 844.4,182.7" style="stroke:#1e1e1e;stroke-width:1.2"/>
<polyline class="w" points="835.4,191.5 844.4,191.5" style="stroke:#1e1e1e;stroke-width:1.2"/>
<polygon class="f" points="836.6,191.5 843.2,191.5 839.9,194.9"/>
<rect x="856.2" y="180.8" width="9" height="1.4" fill="#fff"/>
<polyline class="w" points="856.2,180.3 865.2,180.3" style="stroke:#1e1e1e;stroke-width:1.2"/>
<polyline class="w" points="856.2,182.7 865.2,182.7" style="stroke:#1e1e1e;stroke-width:1.2"/>
<polyline class="w" points="853.4,177.1 856.4,177.1" style="stroke:#222;stroke-width:0.8"/>
<polyline class="w" points="854.9,175.6 854.9,178.6" style="stroke:#222;stroke-width:0.8"/>
<polyline class="w" points="856.2,191.5 865.2,191.5" style="stroke:#1e1e1e;stroke-width:1.2"/>
<polygon class="f" points="857.4,191.5 864,191.5 860.7,194.9"/>
<rect x="879.7" y="180.8" width="9" height="1.4" fill="#fff"/>
<polyline class="w" points="879.7,180.3 888.7,180.3" style="stroke:#1e1e1e;stroke-width:1.2"/>
<polyline class="w" points="879.7,182.7 888.7,182.7" style="stroke:#1e1e1e;stroke-width:1.2"/>
<polyline class="w" points="876.9,177.1 879.9,177.1" style="stroke:#222;stroke-width:0.8"/>
<polyline class="w" points="878.4,175.6 878.4,178.6" style="stroke:#222;stroke-width:0.8"/>
<polyline class="w" points="879.7,191.5 888.7,191.5" style="stroke:#1e1e1e;stroke-width:1.2"/>
<polygon class="f" points="880.9,191.5 887.5,191.5 884.2,194.9"/>
<rect x="924.2" y="180.8" width="9" height="1.4" fill="#fff"/>
<polyline class="w" points="924.2,180.3 933.2,180.3" style="stroke:#1e1e1e;stroke-width:1.2"/>
<polyline class="w" points="924.2,182.7 933.2,182.7" style="stroke:#1e1e1e;stroke-width:1.2"/>
<polyline class="w" points="924.2,191.5 933.2,191.5" style="stroke:#1e1e1e;stroke-width:1.2"/>
<polygon class="f" points="925.4,191.5 932,191.5 928.7,194.9"/>
<rect x="952.4" y="180.8" width="9" height="1.4" fill="#fff"/>
<polyline class="w" points="952.4,180.3 961.4,180.3" style="stroke:#1e1e1e;stroke-width:1.2"/>
<polyline class="w" points="952.4,182.7 961.4,182.7" style="stroke:#1e1e1e;stroke-width:1.2"/>
<polyline class="w" points="952.4,191.5 961.4,191.5" style="stroke:#1e1e1e;stroke-width:1.2"/>
<polygon class="f" points="953.6,191.5 960.2,191.5 956.9,194.9"/>
<rect x="975.3" y="180.8" width="9" height="1.4" fill="#fff"/>
<polyline class="w" points="975.3,180.3 984.3,180.3" style="stroke:#1e1e1e;stroke-width:1.2"/>
<polyline class="w" points="975.3,182.7 984.3,182.7" style="stroke:#1e1e1e;stroke-width:1.2"/>
<polyline class="w" points="975.3,191.5 984.3,191.5" style="stroke:#1e1e1e;stroke-width:1.2"/>
<polygon class="f" points="976.5,191.5 983.1,191.5 979.8,194.9"/>
<rect x="997.2" y="180.8" width="9" height="1.4" fill="#fff"/>
<polyline class="w" points="997.2,180.3 1006.2,180.3" style="stroke:#1e1e1e;stroke-width:1.2"/>
<polyline class="w" points="997.2,182.7 1006.2,182.7" style="stroke:#1e1e1e;stroke-width:1.2"/>
<polyline class="w" points="994.4,177.1 997.4,177.1" style="stroke:#222;stroke-width:0.8"/>
<polyline class="w" points="995.9,175.6 995.9,178.6" style="stroke:#222;stroke-width:0.8"/>
<polyline class="w" points="997.2,191.5 1006.2,191.5" style="stroke:#1e1e1e;stroke-width:1.2"/>
<polygon class="f" points="998.4,191.5 1005,191.5 1001.7,194.9"/>
<rect x="1020.6" y="180.8" width="9" height="1.4" fill="#fff"/>
<polyline class="w" points="1020.6,180.3 1029.6,180.3" style="stroke:#1e1e1e;stroke-width:1.2"/>
<polyline class="w" points="1020.6,182.7 1029.6,182.7" style="stroke:#1e1e1e;stroke-width:1.2"/>
<polyline class="w" points="1017.8,177.1 1020.8,177.1" style="stroke:#222;stroke-width:0.8"/>
<polyline class="w" points="1019.3,175.6 1019.3,178.6" style="stroke:#222;stroke-width:0.8"/>
<polyline class="w" points="1020.6,191.5 1029.6,191.5" style="stroke:#1e1e1e;stroke-width:1.2"/>
<polygon class="f" points="1021.8,191.5 1028.4,191.5 1025.1,194.9"/>
<rect x="1065.2" y="180.8" width="9" height="1.4" fill="#fff"/>
<polyline class="w" points="1065.2,180.3 1074.2,180.3" style="stroke:#1e1e1e;stroke-width:1.2"/>
<polyline class="w" points="1065.2,182.7 1074.2,182.7" style="stroke:#1e1e1e;stroke-width:1.2"/>
<polyline class="w" points="1065.2,191.5 1074.2,191.5" style="stroke:#1e1e1e;stroke-width:1.2"/>
<polygon class="f" points="1066.4,191.5 1073,191.5 1069.7,194.9"/>
<rect x="1093.3" y="180.8" width="9" height="1.4" fill="#fff"/>
<polyline class="w" points="1093.3,180.3 1102.3,180.3" style="stroke:#1e1e1e;stroke-width:1.2"/>
<polyline class="w" points="1093.3,182.7 1102.3,182.7" style="stroke:#1e1e1e;stroke-width:1.2"/>
<polyline class="w" points="1093.3,191.5 1102.3,191.5" style="stroke:#1e1e1e;stroke-width:1.2"/>
<polygon class="f" points="1094.5,191.5 1101.1,191.5 1097.8,194.9"/>
<rect x="1203.5" y="180.8" width="9" height="1.4" fill="#fff"/>
<polyline class="w" points="1203.5,180.3 1212.5,180.3" style="stroke:#1e1e1e;stroke-width:1.2"/>
<polyline class="w" points="1203.5,182.7 1212.5,182.7" style="stroke:#1e1e1e;stroke-width:1.2"/>
<polyline class="w" points="1200.7,177.1 1203.7,177.1" style="stroke:#222;stroke-width:0.8"/>
<polyline class="w" points="1202.2,175.6 1202.2,178.6" style="stroke:#222;stroke-width:0.8"/>
<polyline class="w" points="1203.5,191.5 1212.5,191.5" style="stroke:#1e1e1e;stroke-width:1.2"/>
<polygon class="f" points="1204.7,191.5 1211.3,191.5 1208,194.9"/>
<rect x="1226.7" y="180.8" width="9" height="1.4" fill="#fff"/>
<polyline class="w" points="1226.7,180.3 1235.7,180.3" style="stroke:#1e1e1e;stroke-width:1.2"/>
<polyline class="w" points="1226.7,182.7 1235.7,182.7" style="stroke:#1e1e1e;stroke-width:1.2"/>
<polyline class="w" points="1223.9,177.1 1226.9,177.1" style="stroke:#222;stroke-width:0.8"/>
<polyline class="w" points="1225.4,175.6 1225.4,178.6" style="stroke:#222;stroke-width:0.8"/>
<polyline class="w" points="1226.7,191.5 1235.7,191.5" style="stroke:#1e1e1e;stroke-width:1.2"/>
<polygon class="f" points="1227.9,191.5 1234.5,191.5 1231.2,194.9"/>
<rect x="1250.1" y="180.8" width="9" height="1.4" fill="#fff"/>
<polyline class="w" points="1250.1,180.3 1259.1,180.3" style="stroke:#1e1e1e;stroke-width:1.2"/>
<polyline class="w" points="1250.1,182.7 1259.1,182.7" style="stroke:#1e1e1e;stroke-width:1.2"/>
<polyline class="w" points="1247.3,177.1 1250.3,177.1" style="stroke:#222;stroke-width:0.8"/>
<polyline class="w" points="1248.8,175.6 1248.8,178.6" style="stroke:#222;stroke-width:0.8"/>
<polyline class="w" points="1250.1,191.5 1259.1,191.5" style="stroke:#1e1e1e;stroke-width:1.2"/>
<polygon class="f" points="1251.3,191.5 1257.9,191.5 1254.6,194.9"/>
<polyline class="w" points="839.9,218 867.8,218" style="stroke:#333"/>
<polyline class="w" points="870.3,218 898.5,218" style="stroke:#333"/>
<polyline class="w" points="985.3,218 1008.7,218" style="stroke:#333"/>
<polyline class="w" points="1011.3,218 1039,218" style="stroke:#333"/>
<polyline class="w" points="1186.7,218 1214.4,218" style="stroke:#333"/>
<polyline class="w" points="1216.9,218 1238.3,218" style="stroke:#333"/>
<polyline class="w" points="1243.3,218 1268.5,218" style="stroke:#333"/>
<rect x="1188.4" y="156.8" width="33.5" height="9.8" fill="#fff" stroke="#111" stroke-width="1.6"/>
<circle class="c" cx="747.6" cy="272.3" r="14.2"/>
<polyline class="w" points="743.6,261.8 743.6,282.8" style="stroke:#1e1e1e;stroke-width:1.5"/>
<polyline class="w" points="743.6,266.3 755,260.3" style="stroke:#1e1e1e"/>
<polyline class="w" points="743.6,278.3 755,284.3" style="stroke:#1e1e1e"/>
<polygon class="f" points="754.1,283.8 747,282.7 749.1,278.6"/>
<circle class="c" cx="799.7" cy="272.3" r="14.2"/>
<polyline class="w" points="795.7,261.8 795.7,282.8" style="stroke:#1e1e1e;stroke-width:1.5"/>
<polyline class="w" points="795.7,266.3 807.1,260.3" style="stroke:#1e1e1e"/>
<polyline class="w" points="795.7,278.3 807.1,284.3" style="stroke:#1e1e1e"/>
<polygon class="f" points="806.2,283.8 799.1,282.7 801.2,278.6"/>
<rect class="r" x="816" y="287.3" width="17" height="7"/>
<polyline class="w" points="818.5,290.8 830.5,290.8" style="stroke:#1e1e1e"/>
<rect class="r" x="764.1" y="308.4" width="17" height="7"/>
<polyline class="w" points="766.6,311.9 778.6,311.9" style="stroke:#1e1e1e"/>
<rect class="r" x="751.5" y="351.2" width="7" height="17"/>
<rect class="r" x="803.6" y="351.2" width="7" height="17"/>
<rect x="837.9" y="391.8" width="9" height="1.4" fill="#fff"/>
<polyline class="w" points="837.9,391.3 846.9,391.3" style="stroke:#1e1e1e;stroke-width:1.2"/>
<polyline class="w" points="837.9,393.7 846.9,393.7" style="stroke:#1e1e1e;stroke-width:1.2"/>
<rect class="r" x="764.1" y="432.5" width="17" height="7"/>
<polyline class="w" points="766.6,436 778.6,436" style="stroke:#1e1e1e"/>
<rect class="r" x="816" y="453.6" width="17" height="7"/>
<polyline class="w" points="818.5,457.1 830.5,457.1" style="stroke:#1e1e1e"/>
<circle class="c" cx="747.6" cy="476.5" r="14.2"/>
<polyline class="w" points="743.6,466 743.6,487" style="stroke:#1e1e1e;stroke-width:1.5"/>
<polyline class="w" points="743.6,470.5 755,464.5" style="stroke:#1e1e1e"/>
<polyline class="w" points="743.6,482.5 755,488.5" style="stroke:#1e1e1e"/>
<polygon class="f" points="744.7,469.9 749.7,464.7 751.8,468.8"/>
<circle class="c" cx="799.7" cy="476.5" r="14.2"/>
<polyline class="w" points="795.7,466 795.7,487" style="stroke:#1e1e1e;stroke-width:1.5"/>
<polyline class="w" points="795.7,470.5 807.1,464.5" style="stroke:#1e1e1e"/>
<polyline class="w" points="795.7,482.5 807.1,488.5" style="stroke:#1e1e1e"/>
<polygon class="f" points="796.8,469.9 801.8,464.7 803.9,468.8"/>
<circle class="c" cx="897.9" cy="311.9" r="14.2"/>
<polyline class="w" points="893.9,301.4 893.9,322.4" style="stroke:#1e1e1e;stroke-width:1.5"/>
<polyline class="w" points="893.9,305.9 905.3,299.9" style="stroke:#1e1e1e"/>
<polyline class="w" points="893.9,317.9 905.3,323.9" style="stroke:#1e1e1e"/>
<polygon class="f" points="904.4,323.4 897.3,322.3 899.4,318.2"/>
<rect class="r" x="866.8" y="349.3" width="7" height="17"/>
<polyline class="w" points="870.3,351.8 870.3,363.8" style="stroke:#1e1e1e"/>
<rect class="r" x="866.8" y="384.5" width="7" height="17"/>
<polyline class="w" points="870.3,387 870.3,399" style="stroke:#1e1e1e"/>
<rect class="r" x="877.9" y="349.3" width="7" height="17"/>
<polyline class="w" points="881.4,351.8 881.4,363.8" style="stroke:#1e1e1e"/>
<rect class="r" x="877.9" y="384.5" width="7" height="17"/>
<polyline class="w" points="881.4,387 881.4,399" style="stroke:#1e1e1e"/>
<rect class="r" x="890" y="349.3" width="7" height="17"/>
<polyline class="w" points="893.5,351.8 893.5,363.8" style="stroke:#1e1e1e"/>
<rect class="r" x="890" y="384.5" width="7" height="17"/>
<polyline class="w" points="893.5,387 893.5,399" style="stroke:#1e1e1e"/>
<rect class="r" x="901.8" y="349.3" width="7" height="17"/>
<polyline class="w" points="905.3,351.8 905.3,363.8" style="stroke:#1e1e1e"/>
<rect class="r" x="901.8" y="384.5" width="7" height="17"/>
<polyline class="w" points="905.3,387 905.3,399" style="stroke:#1e1e1e"/>
<circle class="c" cx="897.9" cy="436" r="14.2"/>
<polyline class="w" points="893.9,425.5 893.9,446.5" style="stroke:#1e1e1e;stroke-width:1.5"/>
<polyline class="w" points="893.9,430 905.3,424" style="stroke:#1e1e1e"/>
<polyline class="w" points="893.9,442 905.3,448" style="stroke:#1e1e1e"/>
<polygon class="f" points="895,429.4 900,424.2 902.1,428.3"/>
<circle class="c" cx="961.1" cy="311.9" r="14.2"/>
<polyline class="w" points="957.1,301.4 957.1,322.4" style="stroke:#1e1e1e;stroke-width:1.5"/>
<polyline class="w" points="957.1,305.9 968.5,299.9" style="stroke:#1e1e1e"/>
<polyline class="w" points="957.1,317.9 968.5,323.9" style="stroke:#1e1e1e"/>
<polygon class="f" points="967.6,323.4 960.5,322.3 962.6,318.2"/>
<rect class="r" x="930.2" y="349.3" width="7" height="17"/>
<polyline class="w" points="933.7,351.8 933.7,363.8" style="stroke:#1e1e1e"/>
<rect class="r" x="930.2" y="384.5" width="7" height="17"/>
<polyline class="w" points="933.7,387 933.7,399" style="stroke:#1e1e1e"/>
<rect class="r" x="941.6" y="349.3" width="7" height="17"/>
<polyline class="w" points="945.1,351.8 945.1,363.8" style="stroke:#1e1e1e"/>
<rect class="r" x="941.6" y="384.5" width="7" height="17"/>
<polyline class="w" points="945.1,387 945.1,399" style="stroke:#1e1e1e"/>
<rect class="r" x="953.4" y="349.3" width="7" height="17"/>
<polyline class="w" points="956.9,351.8 956.9,363.8" style="stroke:#1e1e1e"/>
<rect class="r" x="953.4" y="384.5" width="7" height="17"/>
<polyline class="w" points="956.9,387 956.9,399" style="stroke:#1e1e1e"/>
<rect class="r" x="965" y="349.3" width="7" height="17"/>
<polyline class="w" points="968.5,351.8 968.5,363.8" style="stroke:#1e1e1e"/>
<rect class="r" x="965" y="384.5" width="7" height="17"/>
<polyline class="w" points="968.5,387 968.5,399" style="stroke:#1e1e1e"/>
<circle class="c" cx="961.1" cy="436" r="14.2"/>
<polyline class="w" points="957.1,425.5 957.1,446.5" style="stroke:#1e1e1e;stroke-width:1.5"/>
<polyline class="w" points="957.1,430 968.5,424" style="stroke:#1e1e1e"/>
<polyline class="w" points="957.1,442 968.5,448" style="stroke:#1e1e1e"/>
<polygon class="f" points="958.2,429.4 963.2,424.2 965.3,428.3"/>
<circle class="c" cx="1038.9" cy="311.9" r="14.2"/>
<polyline class="w" points="1034.9,301.4 1034.9,322.4" style="stroke:#1e1e1e;stroke-width:1.5"/>
<polyline class="w" points="1034.9,305.9 1046.3,299.9" style="stroke:#1e1e1e"/>
<polyline class="w" points="1034.9,317.9 1046.3,323.9" style="stroke:#1e1e1e"/>
<polygon class="f" points="1045.4,323.4 1038.3,322.3 1040.4,318.2"/>
<rect class="r" x="1007" y="349.3" width="7" height="17"/>
<polyline class="w" points="1010.5,351.8 1010.5,363.8" style="stroke:#1e1e1e"/>
<rect class="r" x="1007" y="384.5" width="7" height="17"/>
<polyline class="w" points="1010.5,387 1010.5,399" style="stroke:#1e1e1e"/>
<rect class="r" x="1019.1" y="349.3" width="7" height="17"/>
<polyline class="w" points="1022.6,351.8 1022.6,363.8" style="stroke:#1e1e1e"/>
<rect class="r" x="1019.1" y="384.5" width="7" height="17"/>
<polyline class="w" points="1022.6,387 1022.6,399" style="stroke:#1e1e1e"/>
<rect class="r" x="1030.9" y="349.3" width="7" height="17"/>
<polyline class="w" points="1034.4,351.8 1034.4,363.8" style="stroke:#1e1e1e"/>
<rect class="r" x="1030.9" y="384.5" width="7" height="17"/>
<polyline class="w" points="1034.4,387 1034.4,399" style="stroke:#1e1e1e"/>
<rect class="r" x="1042.8" y="349.3" width="7" height="17"/>
<polyline class="w" points="1046.3,351.8 1046.3,363.8" style="stroke:#1e1e1e"/>
<rect class="r" x="1042.8" y="384.5" width="7" height="17"/>
<polyline class="w" points="1046.3,387 1046.3,399" style="stroke:#1e1e1e"/>
<circle class="c" cx="1038.9" cy="436" r="14.2"/>
<polyline class="w" points="1034.9,425.5 1034.9,446.5" style="stroke:#1e1e1e;stroke-width:1.5"/>
<polyline class="w" points="1034.9,430 1046.3,424" style="stroke:#1e1e1e"/>
<polyline class="w" points="1034.9,442 1046.3,448" style="stroke:#1e1e1e"/>
<polygon class="f" points="1036,429.4 1041,424.2 1043.1,428.3"/>
<circle class="c" cx="1101.8" cy="311.9" r="14.2"/>
<polyline class="w" points="1097.8,301.4 1097.8,322.4" style="stroke:#1e1e1e;stroke-width:1.5"/>
<polyline class="w" points="1097.8,305.9 1109.2,299.9" style="stroke:#1e1e1e"/>
<polyline class="w" points="1097.8,317.9 1109.2,323.9" style="stroke:#1e1e1e"/>
<polygon class="f" points="1108.3,323.4 1101.2,322.3 1103.3,318.2"/>
<rect class="r" x="1071.2" y="349.3" width="7" height="17"/>
<polyline class="w" points="1074.7,351.8 1074.7,363.8" style="stroke:#1e1e1e"/>
<rect class="r" x="1071.2" y="384.5" width="7" height="17"/>
<polyline class="w" points="1074.7,387 1074.7,399" style="stroke:#1e1e1e"/>
<rect class="r" x="1082.5" y="349.3" width="7" height="17"/>
<polyline class="w" points="1086,351.8 1086,363.8" style="stroke:#1e1e1e"/>
<rect class="r" x="1082.5" y="384.5" width="7" height="17"/>
<polyline class="w" points="1086,387 1086,399" style="stroke:#1e1e1e"/>
<rect class="r" x="1094.3" y="349.3" width="7" height="17"/>
<polyline class="w" points="1097.8,351.8 1097.8,363.8" style="stroke:#1e1e1e"/>
<rect class="r" x="1094.3" y="384.5" width="7" height="17"/>
<polyline class="w" points="1097.8,387 1097.8,399" style="stroke:#1e1e1e"/>
<rect class="r" x="1105.7" y="349.3" width="7" height="17"/>
<polyline class="w" points="1109.2,351.8 1109.2,363.8" style="stroke:#1e1e1e"/>
<rect class="r" x="1105.7" y="384.5" width="7" height="17"/>
<polyline class="w" points="1109.2,387 1109.2,399" style="stroke:#1e1e1e"/>
<circle class="c" cx="1101.8" cy="436" r="14.2"/>
<polyline class="w" points="1097.8,425.5 1097.8,446.5" style="stroke:#1e1e1e;stroke-width:1.5"/>
<polyline class="w" points="1097.8,430 1109.2,424" style="stroke:#1e1e1e"/>
<polyline class="w" points="1097.8,442 1109.2,448" style="stroke:#1e1e1e"/>
<polygon class="f" points="1098.9,429.4 1103.9,424.2 1106,428.3"/>
<rect x="833.1" y="568" width="9" height="1.4" fill="#fff"/>
<polyline class="w" points="833.1,567.5 842.1,567.5" style="stroke:#1e1e1e;stroke-width:1.2"/>
<polyline class="w" points="833.1,569.9 842.1,569.9" style="stroke:#1e1e1e;stroke-width:1.2"/>
<polyline class="w" points="833.1,557.2 842.1,557.2" style="stroke:#1e1e1e;stroke-width:1.2"/>
<polygon class="f" points="834.3,557.2 840.9,557.2 837.6,553.8"/>
<rect x="853.7" y="568" width="9" height="1.4" fill="#fff"/>
<polyline class="w" points="853.7,567.5 862.7,567.5" style="stroke:#1e1e1e;stroke-width:1.2"/>
<polyline class="w" points="853.7,569.9 862.7,569.9" style="stroke:#1e1e1e;stroke-width:1.2"/>
<polyline class="w" points="850.9,564.3 853.9,564.3" style="stroke:#222;stroke-width:0.8"/>
<polyline class="w" points="852.4,562.8 852.4,565.8" style="stroke:#222;stroke-width:0.8"/>
<polyline class="w" points="853.7,557.2 862.7,557.2" style="stroke:#1e1e1e;stroke-width:1.2"/>
<polygon class="f" points="854.9,557.2 861.5,557.2 858.2,553.8"/>
<rect x="877.1" y="568" width="9" height="1.4" fill="#fff"/>
<polyline class="w" points="877.1,567.5 886.1,567.5" style="stroke:#1e1e1e;stroke-width:1.2"/>
<polyline class="w" points="877.1,569.9 886.1,569.9" style="stroke:#1e1e1e;stroke-width:1.2"/>
<polyline class="w" points="874.3,564.3 877.3,564.3" style="stroke:#222;stroke-width:0.8"/>
<polyline class="w" points="875.8,562.8 875.8,565.8" style="stroke:#222;stroke-width:0.8"/>
<polyline class="w" points="877.1,557.2 886.1,557.2" style="stroke:#1e1e1e;stroke-width:1.2"/>
<polygon class="f" points="878.3,557.2 884.9,557.2 881.6,553.8"/>
<rect x="924.2" y="568" width="9" height="1.4" fill="#fff"/>
<polyline class="w" points="924.2,567.5 933.2,567.5" style="stroke:#1e1e1e;stroke-width:1.2"/>
<polyline class="w" points="924.2,569.9 933.2,569.9" style="stroke:#1e1e1e;stroke-width:1.2"/>
<polyline class="w" points="924.2,557.2 933.2,557.2" style="stroke:#1e1e1e;stroke-width:1.2"/>
<polygon class="f" points="925.4,557.2 932,557.2 928.7,553.8"/>
<rect x="952.4" y="568" width="9" height="1.4" fill="#fff"/>
<polyline class="w" points="952.4,567.5 961.4,567.5" style="stroke:#1e1e1e;stroke-width:1.2"/>
<polyline class="w" points="952.4,569.9 961.4,569.9" style="stroke:#1e1e1e;stroke-width:1.2"/>
<polyline class="w" points="952.4,557.2 961.4,557.2" style="stroke:#1e1e1e;stroke-width:1.2"/>
<polygon class="f" points="953.6,557.2 960.2,557.2 956.9,553.8"/>
<rect x="973.3" y="568" width="9" height="1.4" fill="#fff"/>
<polyline class="w" points="973.3,567.5 982.3,567.5" style="stroke:#1e1e1e;stroke-width:1.2"/>
<polyline class="w" points="973.3,569.9 982.3,569.9" style="stroke:#1e1e1e;stroke-width:1.2"/>
<polyline class="w" points="973.3,557.2 982.3,557.2" style="stroke:#1e1e1e;stroke-width:1.2"/>
<polygon class="f" points="974.5,557.2 981.1,557.2 977.8,553.8"/>
<rect x="994.7" y="568" width="9" height="1.4" fill="#fff"/>
<polyline class="w" points="994.7,567.5 1003.7,567.5" style="stroke:#1e1e1e;stroke-width:1.2"/>
<polyline class="w" points="994.7,569.9 1003.7,569.9" style="stroke:#1e1e1e;stroke-width:1.2"/>
<polyline class="w" points="991.9,564.3 994.9,564.3" style="stroke:#222;stroke-width:0.8"/>
<polyline class="w" points="993.4,562.8 993.4,565.8" style="stroke:#222;stroke-width:0.8"/>
<polyline class="w" points="994.7,557.2 1003.7,557.2" style="stroke:#1e1e1e;stroke-width:1.2"/>
<polygon class="f" points="995.9,557.2 1002.5,557.2 999.2,553.8"/>
<rect x="1018.1" y="568" width="9" height="1.4" fill="#fff"/>
<polyline class="w" points="1018.1,567.5 1027.1,567.5" style="stroke:#1e1e1e;stroke-width:1.2"/>
<polyline class="w" points="1018.1,569.9 1027.1,569.9" style="stroke:#1e1e1e;stroke-width:1.2"/>
<polyline class="w" points="1015.3,564.3 1018.3,564.3" style="stroke:#222;stroke-width:0.8"/>
<polyline class="w" points="1016.8,562.8 1016.8,565.8" style="stroke:#222;stroke-width:0.8"/>
<polyline class="w" points="1018.1,557.2 1027.1,557.2" style="stroke:#1e1e1e;stroke-width:1.2"/>
<polygon class="f" points="1019.3,557.2 1025.9,557.2 1022.6,553.8"/>
<rect x="1065.2" y="568" width="9" height="1.4" fill="#fff"/>
<polyline class="w" points="1065.2,567.5 1074.2,567.5" style="stroke:#1e1e1e;stroke-width:1.2"/>
<polyline class="w" points="1065.2,569.9 1074.2,569.9" style="stroke:#1e1e1e;stroke-width:1.2"/>
<polyline class="w" points="1065.2,557.2 1074.2,557.2" style="stroke:#1e1e1e;stroke-width:1.2"/>
<polygon class="f" points="1066.4,557.2 1073,557.2 1069.7,553.8"/>
<rect x="1093.3" y="568" width="9" height="1.4" fill="#fff"/>
<polyline class="w" points="1093.3,567.5 1102.3,567.5" style="stroke:#1e1e1e;stroke-width:1.2"/>
<polyline class="w" points="1093.3,569.9 1102.3,569.9" style="stroke:#1e1e1e;stroke-width:1.2"/>
<polyline class="w" points="1093.3,557.2 1102.3,557.2" style="stroke:#1e1e1e;stroke-width:1.2"/>
<polygon class="f" points="1094.5,557.2 1101.1,557.2 1097.8,553.8"/>
<rect x="1203.5" y="568" width="9" height="1.4" fill="#fff"/>
<polyline class="w" points="1203.5,567.5 1212.5,567.5" style="stroke:#1e1e1e;stroke-width:1.2"/>
<polyline class="w" points="1203.5,569.9 1212.5,569.9" style="stroke:#1e1e1e;stroke-width:1.2"/>
<polyline class="w" points="1200.7,564.3 1203.7,564.3" style="stroke:#222;stroke-width:0.8"/>
<polyline class="w" points="1202.2,562.8 1202.2,565.8" style="stroke:#222;stroke-width:0.8"/>
<polyline class="w" points="1203.5,557.2 1212.5,557.2" style="stroke:#1e1e1e;stroke-width:1.2"/>
<polygon class="f" points="1204.7,557.2 1211.3,557.2 1208,553.8"/>
<rect x="1227" y="568" width="9" height="1.4" fill="#fff"/>
<polyline class="w" points="1227,567.5 1236,567.5" style="stroke:#1e1e1e;stroke-width:1.2"/>
<polyline class="w" points="1227,569.9 1236,569.9" style="stroke:#1e1e1e;stroke-width:1.2"/>
<polyline class="w" points="1224.2,564.3 1227.2,564.3" style="stroke:#222;stroke-width:0.8"/>
<polyline class="w" points="1225.7,562.8 1225.7,565.8" style="stroke:#222;stroke-width:0.8"/>
<polyline class="w" points="1227,557.2 1236,557.2" style="stroke:#1e1e1e;stroke-width:1.2"/>
<polygon class="f" points="1228.2,557.2 1234.8,557.2 1231.5,553.8"/>
<rect x="1250.1" y="568" width="9" height="1.4" fill="#fff"/>
<polyline class="w" points="1250.1,567.5 1259.1,567.5" style="stroke:#1e1e1e;stroke-width:1.2"/>
<polyline class="w" points="1250.1,569.9 1259.1,569.9" style="stroke:#1e1e1e;stroke-width:1.2"/>
<polyline class="w" points="1247.3,564.3 1250.3,564.3" style="stroke:#222;stroke-width:0.8"/>
<polyline class="w" points="1248.8,562.8 1248.8,565.8" style="stroke:#222;stroke-width:0.8"/>
<polyline class="w" points="1250.1,557.2 1259.1,557.2" style="stroke:#1e1e1e;stroke-width:1.2"/>
<polygon class="f" points="1251.3,557.2 1257.9,557.2 1254.6,553.8"/>
<polyline class="w" points="839.9,539.6 865.8,539.6" style="stroke:#333"/>
<polyline class="w" points="870.3,539.6 896,539.6" style="stroke:#333"/>
<polyline class="w" points="987.1,539.6 1010,539.6" style="stroke:#333"/>
<polyline class="w" points="1011.3,539.6 1037,539.6" style="stroke:#333"/>
<polyline class="w" points="1191,542.1 1214.9,542.1" style="stroke:#333"/>
<polyline class="w" points="1219.4,542.1 1240.8,542.1" style="stroke:#333"/>
<polyline class="w" points="1245.3,542.1 1271,542.1" style="stroke:#333"/>
<rect x="1198" y="583.5" width="33.5" height="10" fill="#fff" stroke="#111" stroke-width="1.6"/>
<rect x="581.9" y="680.3" width="9" height="1.4" fill="#fff"/>
<polyline class="w" points="581.9,679.8 590.9,679.8" style="stroke:#1e1e1e;stroke-width:1.2"/>
<polyline class="w" points="581.9,682.2 590.9,682.2" style="stroke:#1e1e1e;stroke-width:1.2"/>
<polyline class="w" points="581.9,669.5 590.9,669.5" style="stroke:#1e1e1e;stroke-width:1.2"/>
<polygon class="f" points="583.1,669.5 589.7,669.5 586.4,666.1"/>
<rect x="605.3" y="680.3" width="9" height="1.4" fill="#fff"/>
<polyline class="w" points="605.3,679.8 614.3,679.8" style="stroke:#1e1e1e;stroke-width:1.2"/>
<polyline class="w" points="605.3,682.2 614.3,682.2" style="stroke:#1e1e1e;stroke-width:1.2"/>
<polyline class="w" points="602.5,676.6 605.5,676.6" style="stroke:#222;stroke-width:0.8"/>
<polyline class="w" points="604,675.1 604,678.1" style="stroke:#222;stroke-width:0.8"/>
<polyline class="w" points="605.3,669.5 614.3,669.5" style="stroke:#1e1e1e;stroke-width:1.2"/>
<polygon class="f" points="606.5,669.5 613.1,669.5 609.8,666.1"/>
<polyline class="w" points="600.6,652.1 624,652.1" style="stroke:#333"/>
<rect class="r" x="632.9" y="688" width="17" height="7"/>
<polyline class="w" points="635.4,691.5 647.4,691.5" style="stroke:#1e1e1e"/>
<rect x="762.6" y="680.3" width="9" height="1.4" fill="#fff"/>
<polyline class="w" points="762.6,679.8 771.6,679.8" style="stroke:#1e1e1e;stroke-width:1.2"/>
<polyline class="w" points="762.6,682.2 771.6,682.2" style="stroke:#1e1e1e;stroke-width:1.2"/>
<polyline class="w" points="762.6,669.5 771.6,669.5" style="stroke:#1e1e1e;stroke-width:1.2"/>
<polygon class="f" points="763.8,669.5 770.4,669.5 767.1,666.1"/>
<rect x="785.8" y="680.3" width="9" height="1.4" fill="#fff"/>
<polyline class="w" points="785.8,679.8 794.8,679.8" style="stroke:#1e1e1e;stroke-width:1.2"/>
<polyline class="w" points="785.8,682.2 794.8,682.2" style="stroke:#1e1e1e;stroke-width:1.2"/>
<polyline class="w" points="783,676.6 786,676.6" style="stroke:#222;stroke-width:0.8"/>
<polyline class="w" points="784.5,675.1 784.5,678.1" style="stroke:#222;stroke-width:0.8"/>
<polyline class="w" points="785.8,669.5 794.8,669.5" style="stroke:#1e1e1e;stroke-width:1.2"/>
<polygon class="f" points="787,669.5 793.6,669.5 790.3,666.1"/>
<polyline class="w" points="774.4,652.1 799.6,652.1" style="stroke:#333"/>
<rect class="r" x="839.3" y="688" width="17" height="7"/>
<polyline class="w" points="841.8,691.5 853.8,691.5" style="stroke:#1e1e1e"/>
<rect x="1269" y="680.3" width="9" height="1.4" fill="#fff"/>
<polyline class="w" points="1269,679.8 1278,679.8" style="stroke:#1e1e1e;stroke-width:1.2"/>
<polyline class="w" points="1269,682.2 1278,682.2" style="stroke:#1e1e1e;stroke-width:1.2"/>
<polyline class="w" points="1266.2,676.6 1269.2,676.6" style="stroke:#222;stroke-width:0.8"/>
<polyline class="w" points="1267.7,675.1 1267.7,678.1" style="stroke:#222;stroke-width:0.8"/>
<polyline class="w" points="1269,669.5 1278,669.5" style="stroke:#1e1e1e;stroke-width:1.2"/>
<polygon class="f" points="1270.2,669.5 1276.8,669.5 1273.5,666.1"/>
<rect x="1292.4" y="680.3" width="9" height="1.4" fill="#fff"/>
<polyline class="w" points="1292.4,679.8 1301.4,679.8" style="stroke:#1e1e1e;stroke-width:1.2"/>
<polyline class="w" points="1292.4,682.2 1301.4,682.2" style="stroke:#1e1e1e;stroke-width:1.2"/>
<polyline class="w" points="1292.4,669.5 1301.4,669.5" style="stroke:#1e1e1e;stroke-width:1.2"/>
<polygon class="f" points="1293.6,669.5 1300.2,669.5 1296.9,666.1"/>
<polyline class="w" points="1257,652.1 1283,652.1" style="stroke:#333"/>
<rect x="1252.1" y="696.6" width="33.5" height="10" fill="#fff" stroke="#111" stroke-width="1.6"/>
<polygon class="dio" points="1268,278.4 1279,278.4 1273.5,269.9"/>
<polyline class="w" points="1268,269.9 1279,269.9" style="stroke:#1e1e1e;stroke-width:1.3"/>
<polygon class="dio" points="1268,510.9 1279,510.9 1273.5,502.4"/>
<polyline class="w" points="1268,502.4 1279,502.4" style="stroke:#1e1e1e;stroke-width:1.3"/>
<polygon class="dio" points="1291.4,278.4 1302.4,278.4 1296.9,269.9"/>
<polyline class="w" points="1291.4,269.9 1302.4,269.9" style="stroke:#1e1e1e;stroke-width:1.3"/>
<polygon class="dio" points="1291.4,510.9 1302.4,510.9 1296.9,502.4"/>
<polyline class="w" points="1291.4,502.4 1302.4,502.4" style="stroke:#1e1e1e;stroke-width:1.3"/>
<polygon class="dio" points="1314.6,278.4 1325.6,278.4 1320.1,269.9"/>
<polyline class="w" points="1314.6,269.9 1325.6,269.9" style="stroke:#1e1e1e;stroke-width:1.3"/>
<polygon class="dio" points="1314.6,510.9 1325.6,510.9 1320.1,502.4"/>
<polyline class="w" points="1314.6,502.4 1325.6,502.4" style="stroke:#1e1e1e;stroke-width:1.3"/>
<polygon class="dio" points="1338,278.4 1349,278.4 1343.5,269.9"/>
<polyline class="w" points="1338,269.9 1349,269.9" style="stroke:#1e1e1e;stroke-width:1.3"/>
<polygon class="dio" points="1338,510.9 1349,510.9 1343.5,502.4"/>
<polyline class="w" points="1338,502.4 1349,502.4" style="stroke:#1e1e1e;stroke-width:1.3"/>
<circle cx="1399.9" cy="288.5" r="2.6" fill="#fff" stroke="#333" stroke-width="1"/>
<circle cx="1399.9" cy="302.6" r="2.6" fill="#fff" stroke="#333" stroke-width="1"/>
<polyline class="w" points="1199,251.5 1199,260.5" style="stroke:#1e1e1e;stroke-width:1.2"/>
<polygon class="f" points="1199,252.6 1199,259.4 1203.2,256"/>
<polyline class="w" points="1180,249 1176.5,249 1176.5,262 1180,262" style="stroke:#1e1e1e"/>
<polyline class="w" points="1176.5,252 1173.5,255" style="stroke:#1e1e1e"/>
<polyline class="w" points="1176.5,256 1173.5,259" style="stroke:#1e1e1e"/>
<polyline class="w" points="1176.5,260 1173.5,263" style="stroke:#1e1e1e"/>
<rect class="r" x="1185.7" y="266.9" width="7" height="17"/>
<polyline class="w" points="1184.5,296 1194,296" style="stroke:#1e1e1e;stroke-width:1.6"/>
<circle cx="1399.9" cy="330.2" r="2.6" fill="#fff" stroke="#333" stroke-width="1"/>
<rect class="r" x="1221.4" y="326.7" width="17" height="7"/>
<rect x="1250.1" y="340.5" width="9" height="1.4" fill="#fff"/>
<polyline class="w" points="1250.1,340 1259.1,340" style="stroke:#1e1e1e;stroke-width:1.2"/>
<polyline class="w" points="1250.1,342.4 1259.1,342.4" style="stroke:#1e1e1e;stroke-width:1.2"/>
<polyline class="w" points="1250.1,353 1259.1,353" style="stroke:#1e1e1e;stroke-width:1.2"/>
<polygon class="f" points="1251.2,353 1258,353 1254.6,357.2"/>
<polyline class="w" points="1130,375.4 1161,379.5" style="stroke:#1e1e1e"/>
<rect class="r" x="1126.5" y="391.1" width="7" height="17"/>
<rect x="1168.3" y="396.7" width="9" height="1.4" fill="#fff"/>
<polyline class="w" points="1168.3,396.2 1177.3,396.2" style="stroke:#1e1e1e;stroke-width:1.2"/>
<polyline class="w" points="1168.3,398.6 1177.3,398.6" style="stroke:#1e1e1e;stroke-width:1.2"/>
<rect x="1185" y="354" width="26.5" height="5" fill="#fff"/>
<path d="M1185,358 a2.6,2.4 0 0 1 5.3,0 a2.6,2.4 0 0 1 5.3,0 a2.6,2.4 0 0 1 5.3,0 a2.6,2.4 0 0 1 5.3,0 a2.6,2.4 0 0 1 5.3,0" fill="none" stroke="#1e1e1e" stroke-width="1.1"/>
<rect class="r" x="1190.9" y="375.5" width="17" height="7"/>
<polyline class="w" points="1193.4,379 1205.4,379" style="stroke:#1e1e1e"/>
<rect class="r" x="1190.9" y="416.6" width="17" height="7"/>
<polyline class="w" points="1199.4,416.6 1199.4,423.6" style="stroke:#1e1e1e"/>
<rect x="1243.1" y="394.3" width="9" height="1.4" fill="#fff"/>
<polyline class="w" points="1243.1,393.8 1252.1,393.8" style="stroke:#1e1e1e;stroke-width:1.2"/>
<polyline class="w" points="1243.1,396.2 1252.1,396.2" style="stroke:#1e1e1e;stroke-width:1.2"/>
<polyline class="w" points="1240,417.6 1240,426.6" style="stroke:#1e1e1e;stroke-width:1.2"/>
<polygon class="f" points="1240,418.7 1240,425.5 1235.8,422.1"/>
<polyline class="w" points="1245.8,370.3 1249.4,366.7" style="stroke:#e04a4a;stroke-width:0.9"/>
<polyline class="w" points="1400.1,370.3 1403.7,366.7" style="stroke:#e04a4a;stroke-width:0.9"/>
<polyline class="w" points="1245.8,423.9 1249.4,420.3" style="stroke:#e04a4a;stroke-width:0.9"/>
<polyline class="w" points="1400.1,423.9 1403.7,420.3" style="stroke:#e04a4a;stroke-width:0.9"/>
<polyline class="w" points="1245.8,440.3 1249.4,436.7" style="stroke:#e04a4a;stroke-width:0.9"/>
<rect x="1388" y="364.5" width="7" height="8" fill="#fff"/>
<polyline class="w" points="1388.5,372.5 1391.5,364.5" style="stroke:#1e1e1e"/>
<polyline class="w" points="1391.5,372.5 1394.5,364.5" style="stroke:#1e1e1e"/>
<rect x="1388" y="418.1" width="7" height="8" fill="#fff"/>
<polyline class="w" points="1388.5,426.1 1391.5,418.1" style="stroke:#1e1e1e"/>
<polyline class="w" points="1391.5,426.1 1394.5,418.1" style="stroke:#1e1e1e"/>
<rect x="1388" y="434.5" width="7" height="8" fill="#fff"/>
<polyline class="w" points="1388.5,442.5 1391.5,434.5" style="stroke:#1e1e1e"/>
<polyline class="w" points="1391.5,442.5 1394.5,434.5" style="stroke:#1e1e1e"/>
<rect x="1397.3" y="384.9" width="11.6" height="15.8" fill="#fff" stroke="#222" stroke-width="1.1"/>
<polygon points="1408.9,384.9 1417,378.6 1417,407.5 1408.9,400.7" fill="#fff" stroke="#222" stroke-width="1.1"/>
<rect x="1219.9" y="459.9" width="9" height="1.4" fill="#fff"/>
<polyline class="w" points="1219.9,459.4 1228.9,459.4" style="stroke:#1e1e1e;stroke-width:1.2"/>
<polyline class="w" points="1219.9,461.8 1228.9,461.8" style="stroke:#1e1e1e;stroke-width:1.2"/>
<polyline class="w" points="1200.5,466.6 1221.9,466.6" style="stroke:#333"/>
<rect class="r" x="1220.9" y="485" width="7" height="17"/>
<polyline class="w" points="1220.9,492.6 1227.9,492.6" style="stroke:#1e1e1e"/>
<polyline class="w" points="1220.9,494.4 1227.9,494.4" style="stroke:#1e1e1e"/>
<polyline class="w" points="1219.5,510 1229.3,510" style="stroke:#1e1e1e;stroke-width:1.6"/>
<circle cx="1399.9" cy="469" r="2.6" fill="#fff" stroke="#333" stroke-width="1"/>
<rect class="r" x="1355" y="465.5" width="17" height="7"/>
<polyline class="w" points="1357.5,469 1369.5,469" style="stroke:#1e1e1e"/>
<circle cx="1399.9" cy="485.3" r="2.6" fill="#fff" stroke="#333" stroke-width="1"/>
<rect class="r" x="1355" y="481.8" width="17" height="7"/>
<polyline class="w" points="1357.5,485.3 1369.5,485.3" style="stroke:#1e1e1e"/>
<polyline class="w" points="1389.3,497.5 1389.3,506" style="stroke:#1e1e1e;stroke-width:1.3"/>
<circle cx="1399.9" cy="501.7" r="2.6" fill="#fff" stroke="#333" stroke-width="1"/>
<circle cx="1399.9" cy="579.2" r="2.6" fill="#fff" stroke="#333" stroke-width="1"/>
<rect x="1350.8" y="588.5" width="14.6" height="7.5" fill="#fff" stroke="#222" stroke-width="1.1"/>
<circle cx="1399.9" cy="605.4" r="2.6" fill="#fff" stroke="#333" stroke-width="1"/>
<polygon class="dio" points="1376.2,596.3 1386.2,596.3 1381.2,588.3"/>
<polyline class="w" points="1376.2,588.3 1386.2,588.3" style="stroke:#1e1e1e;stroke-width:1.3"/>
<polygon points="224.6,861 242,891 207.2,891" fill="none" stroke="#d8323a" stroke-width="1.3"/>
<text x="219" y="47.8" font-size="8.3" text-anchor="middle" fill="#161616" stroke="#161616">R12</text>
<text x="218.5" y="65.9" font-size="8.3" text-anchor="middle" fill="#161616" stroke="#161616">270</text>
<circle class="d" cx="241.5" cy="53.9" r="2.3"/>
<text x="255" y="77.3" font-size="8.3" text-anchor="middle" fill="#161616" stroke="#161616">R14</text>
<text x="256" y="86.8" font-size="8.3" text-anchor="middle" fill="#161616" stroke="#161616">2,7к</text>
<text x="151" y="86.8" font-size="8.3" text-anchor="middle" fill="#161616" stroke="#161616">VT8</text>
<text x="153" y="96.3" font-size="8.3" text-anchor="middle" fill="#161616" stroke="#161616">2N3906</text>
<circle class="d" cx="175.7" cy="100.7" r="2.3"/>
<circle class="d" cx="203.9" cy="100.7" r="2.3"/>
<text x="122" y="114.8" font-size="8.3" text-anchor="middle" fill="#161616" stroke="#161616">R3</text>
<text x="125" y="124.3" font-size="8.3" text-anchor="middle" fill="#161616" stroke="#161616">3,3к</text>
<text x="190" y="114.8" font-size="8.3" text-anchor="middle" fill="#161616" stroke="#161616">R10</text>
<text x="189" y="124.3" font-size="8.3" text-anchor="middle" fill="#161616" stroke="#161616">3,3к</text>
<text x="120.5" y="168.8" font-size="8.3" text-anchor="middle" fill="#161616" stroke="#161616">VT2</text>
<text x="127.5" y="178.3" font-size="8.3" text-anchor="middle" fill="#161616" stroke="#161616">2N3906</text>
<text x="218" y="168.8" font-size="8.3" text-anchor="middle" fill="#161616" stroke="#161616">VT10</text>
<text x="220" y="178.3" font-size="8.3" text-anchor="middle" fill="#161616" stroke="#161616">2N3906</text>
<text x="254" y="110.3" font-size="8.3" text-anchor="middle" fill="#161616" stroke="#161616">VD3</text>
<text x="255" y="119.3" font-size="8.3" text-anchor="middle" fill="#161616" stroke="#161616">15 В</text>
<circle class="d" cx="241.5" cy="129" r="2.3"/>
<circle class="d" cx="241.5" cy="165" r="2.3"/>
<circle class="d" cx="263" cy="165" r="2.3"/>
<circle class="d" cx="241.5" cy="178" r="2.3"/>
<text x="251" y="154.8" font-size="8.3" text-anchor="middle" fill="#161616" stroke="#161616">C4</text>
<text x="273.5" y="154.8" font-size="8.3" text-anchor="middle" fill="#161616" stroke="#161616">2,2</text>
<text x="275.5" y="187.8" font-size="8.3" text-anchor="middle" fill="#161616" stroke="#161616">C5  1000,0</text>
<circle class="d" cx="110.2" cy="194.5" r="2.3"/>
<circle class="d" cx="110.2" cy="225" r="2.3"/>
<circle class="d" cx="164.4" cy="225" r="2.3"/>
<circle class="d" cx="203.9" cy="225" r="2.3"/>
<text x="139.5" y="218.3" font-size="8.3" text-anchor="middle" fill="#161616" stroke="#161616">R7</text>
<text x="138.5" y="236.8" font-size="8.3" text-anchor="middle" fill="#161616" stroke="#161616">180</text>
<text x="183" y="206.3" font-size="8.3" text-anchor="middle" fill="#161616" stroke="#161616">C2</text>
<text x="183" y="216.3" font-size="8.3" text-anchor="middle" fill="#161616" stroke="#161616">100</text>
<circle class="d" cx="164.4" cy="238.9" r="2.3"/>
<circle class="d" cx="203.9" cy="238.9" r="2.3"/>
<circle class="d" cx="203.9" cy="252.7" r="2.3"/>
<text x="184" y="267.8" font-size="8.3" text-anchor="middle" fill="#161616" stroke="#161616">VD2</text>
<text x="184" y="276.8" font-size="8.3" text-anchor="middle" fill="#161616" stroke="#161616">VD1</text>
<text x="179.5" y="288.3" font-size="8.3" text-anchor="middle" fill="#161616" stroke="#161616">1N4148</text>
<circle class="d" cx="241.6" cy="281.2" r="2.3"/>
<circle class="d" cx="319" cy="281.2" r="2.3"/>
<text x="121" y="253" font-size="8.3" text-anchor="middle" fill="#161616" stroke="#161616">VT3</text>
<text x="127.5" y="262.6" font-size="8.3" text-anchor="middle" fill="#161616" stroke="#161616">2N5551</text>
<text x="218" y="253" font-size="8.3" text-anchor="middle" fill="#161616" stroke="#161616">VT11</text>
<text x="223" y="262.6" font-size="8.3" text-anchor="middle" fill="#161616" stroke="#161616">2N5551</text>
<text x="132.5" y="309.8" font-size="8.3" text-anchor="middle" fill="#161616" stroke="#161616">VT4</text>
<text x="128.5" y="319.3" font-size="8.3" text-anchor="middle" fill="#161616" stroke="#161616">BF245C</text>
<text x="186.5" y="309.8" font-size="8.3" text-anchor="middle" fill="#161616" stroke="#161616">VT9</text>
<text x="184.5" y="319.3" font-size="8.3" text-anchor="middle" fill="#161616" stroke="#161616">BF245C</text>
<text x="95" y="339.3" font-size="8.3" text-anchor="middle" fill="#161616" stroke="#161616">VT1</text>
<text x="88" y="348.9" font-size="8.3" text-anchor="middle" fill="#161616" stroke="#161616">2SK170A</text>
<text x="220" y="338.3" font-size="8.3" text-anchor="middle" fill="#161616" stroke="#161616">VT13</text>
<text x="226.5" y="347.6" font-size="8.3" text-anchor="middle" fill="#161616" stroke="#161616">2SK170A</text>
<circle class="d" cx="141" cy="382.2" r="2.3"/>
<circle class="d" cx="173.5" cy="382.2" r="2.3"/>
<text x="157.5" y="391.8" font-size="8.3" text-anchor="middle" fill="#161616" stroke="#161616">L1</text>
<text x="158.5" y="401.1" font-size="8.3" text-anchor="middle" fill="#161616" stroke="#161616">100 мкГн</text>
<circle class="d" cx="110.2" cy="389.2" r="2.3"/>
<circle class="d" cx="203.9" cy="389.2" r="2.3"/>
<text x="123" y="408.1" font-size="8.3" text-anchor="middle" fill="#161616" stroke="#161616">R4</text>
<text x="124" y="417.5" font-size="8.3" text-anchor="middle" fill="#161616" stroke="#161616">470</text>
<text x="189.5" y="408.1" font-size="8.3" text-anchor="middle" fill="#161616" stroke="#161616">R11</text>
<text x="189.5" y="417.5" font-size="8.3" text-anchor="middle" fill="#161616" stroke="#161616">470</text>
<circle class="d" cx="110.2" cy="424.6" r="2.3"/>
<text x="40.5" y="368.3" font-size="8.3" text-anchor="middle" fill="#161616" stroke="#161616">R1</text>
<text x="39.5" y="387.3" font-size="8.3" text-anchor="middle" fill="#161616" stroke="#161616">1к</text>
<circle class="d" cx="58.6" cy="375.5" r="2.3"/>
<circle class="d" cx="73" cy="375.5" r="2.3"/>
<text x="45.5" y="422.6" font-size="8.3" text-anchor="middle" fill="#161616" stroke="#161616">R2</text>
<text x="44" y="431.8" font-size="8.3" text-anchor="middle" fill="#161616" stroke="#161616">100к</text>
<text x="86" y="424.9" font-size="8.3" text-anchor="middle" fill="#161616" stroke="#161616">C1</text>
<text x="87" y="436.3" font-size="8.3" text-anchor="middle" fill="#161616" stroke="#161616">330</text>
<text x="27" y="412.8" font-size="8.3" text-anchor="middle" fill="#161616" stroke="#161616">Вход</text>
<circle class="d" cx="58.6" cy="448" r="2.3"/>
<circle class="d" cx="73" cy="448" r="2.3"/>
<circle class="d" cx="164.4" cy="448" r="2.3"/>
<circle class="d" cx="241.6" cy="448" r="2.3"/>
<text x="270.7" y="335.3" font-size="8.3" text-anchor="middle" fill="#161616" stroke="#161616">C6</text>
<text x="270.7" y="344.8" font-size="8.3" text-anchor="middle" fill="#161616" stroke="#161616">10</text>
<circle class="d" cx="241.6" cy="375.4" r="2.3"/>
<text x="270.7" y="368" font-size="8.3" text-anchor="middle" fill="#161616" stroke="#161616">R18</text>
<text x="272.1" y="387.2" font-size="8.3" text-anchor="middle" fill="#161616" stroke="#161616">22к</text>
<circle class="d" cx="241.6" cy="398.9" r="2.3"/>
<circle class="d" cx="269.7" cy="398.9" r="2.3"/>
<text x="256.7" y="424.3" font-size="8.3" text-anchor="middle" fill="#161616" stroke="#161616">R15</text>
<text x="253" y="433.7" font-size="8.3" text-anchor="middle" fill="#161616" stroke="#161616">1к</text>
<text x="284.9" y="424.3" font-size="8.3" text-anchor="middle" fill="#161616" stroke="#161616">R21</text>
<text x="284.2" y="434.1" font-size="8.3" text-anchor="middle" fill="#161616" stroke="#161616">11к</text>
<text x="283.5" y="464.3" font-size="8.3" text-anchor="middle" fill="#161616" stroke="#161616">R19</text>
<text x="282.8" y="474.2" font-size="8.3" text-anchor="middle" fill="#161616" stroke="#161616">27к</text>
<text x="311" y="480.1" font-size="8.3" text-anchor="middle" fill="#161616" stroke="#161616">R22</text>
<text x="310" y="489.6" font-size="8.3" text-anchor="middle" fill="#161616" stroke="#161616">11к</text>
<text x="264.5" y="518" font-size="7.5" text-anchor="middle" fill="#161616" stroke="#161616">1</text>
<text x="292.9" y="518" font-size="7.5" text-anchor="middle" fill="#161616" stroke="#161616">2</text>
<text x="405.7" y="518" font-size="7.5" text-anchor="middle" fill="#161616" stroke="#161616">3</text>
<text x="277.3" y="508.2" font-size="8" text-anchor="middle" fill="#c8323c" stroke="#c8323c" font-style="normal" transform="rotate(-90 277.3 506)">ООС1</text>
<text x="304.7" y="508.2" font-size="8" text-anchor="middle" fill="#c8323c" stroke="#c8323c" font-style="normal" transform="rotate(-90 304.7 506)">ООС2</text>
<text x="420.5" y="493.2" font-size="8" text-anchor="middle" fill="#c8323c" stroke="#c8323c" transform="rotate(-90 420.5 491)">компенсатор</text>
<circle class="d" cx="330.4" cy="270.1" r="2.3"/>
<circle class="d" cx="391.6" cy="270.1" r="2.3"/>
<text x="343.2" y="248.7" font-size="8.3" text-anchor="middle" fill="#161616" stroke="#161616">C9</text>
<text x="369.5" y="248.7" font-size="8.3" text-anchor="middle" fill="#161616" stroke="#161616">1,0</text>
<text x="345.3" y="265.3" font-size="8.3" text-anchor="middle" fill="#161616" stroke="#161616">C10</text>
<text x="369.5" y="265.3" font-size="8.3" text-anchor="middle" fill="#161616" stroke="#161616">1,0</text>
<text x="295.1" y="274" font-size="8.3" text-anchor="middle" fill="#c8323c" stroke="#c8323c">+15 В</text>
<circle class="d" cx="330.4" cy="300" r="2.3"/>
<circle class="d" cx="480.7" cy="354.5" r="2.3"/>
<text x="495.3" y="335.6" font-size="8.3" text-anchor="middle" fill="#161616" stroke="#161616">R32</text>
<text x="497" y="344.9" font-size="8.3" text-anchor="middle" fill="#161616" stroke="#161616">5,1М</text>
<circle class="d" cx="429.6" cy="307.2" r="2.3"/>
<circle class="d" cx="504.6" cy="307.2" r="2.3"/>
<circle class="d" cx="536.8" cy="307.2" r="2.3"/>
<text x="521.5" y="299.8" font-size="8.3" text-anchor="middle" fill="#161616" stroke="#161616">R35</text>
<text x="522.2" y="319.3" font-size="8.3" text-anchor="middle" fill="#161616" stroke="#161616">680к</text>
<circle class="d" cx="363.8" cy="440.8" r="2.3"/>
<text x="357" y="349.4" font-size="8.3" text-anchor="middle" fill="#161616" stroke="#161616">R24  10к</text>
<text x="343.2" y="312" font-size="8.3" text-anchor="middle" fill="#161616" stroke="#161616">DA1</text>
<text x="362.4" y="325.5" font-size="8.3" text-anchor="middle" fill="#161616" stroke="#161616">AD711, TL051</text>
<text x="359.6" y="290.3" font-size="7.5" text-anchor="middle" fill="#161616" stroke="#161616">7</text>
<text x="340.4" y="297.1" font-size="7.5" text-anchor="middle" fill="#161616" stroke="#161616">6</text>
<text x="380.6" y="290.3" font-size="7.5" text-anchor="middle" fill="#161616" stroke="#161616">2</text>
<text x="380.6" y="304.5" font-size="7.5" text-anchor="middle" fill="#161616" stroke="#161616">3</text>
<circle class="d" cx="391.6" cy="293.3" r="2.3"/>
<circle class="d" cx="391.6" cy="316.3" r="2.3"/>
<circle class="d" cx="429.6" cy="316.3" r="2.3"/>
<circle class="d" cx="429.6" cy="328.2" r="2.3"/>
<text x="412.2" y="288.2" font-size="8.3" text-anchor="middle" fill="#161616" stroke="#161616">VD6</text>
<text x="412.2" y="302" font-size="8.3" text-anchor="middle" fill="#161616" stroke="#161616">VD5</text>
<text x="446.3" y="316.9" font-size="8.3" text-anchor="middle" fill="#161616" stroke="#161616">R29</text>
<text x="447.8" y="325.5" font-size="8.3" text-anchor="middle" fill="#161616" stroke="#161616">5,1М</text>
<text x="411.5" y="340.4" font-size="8.3" text-anchor="middle" fill="#161616" stroke="#161616">1N4148</text>
<text x="412.2" y="348.9" font-size="8.3" text-anchor="middle" fill="#161616" stroke="#161616">VD7</text>
<circle class="d" cx="330.4" cy="375.4" r="2.3"/>
<circle class="d" cx="391.6" cy="375.4" r="2.3"/>
<circle class="d" cx="429.6" cy="375.4" r="2.3"/>
<circle class="d" cx="330.4" cy="389.1" r="2.3"/>
<circle class="d" cx="391.6" cy="389.1" r="2.3"/>
<circle class="d" cx="429.6" cy="389.1" r="2.3"/>
<circle class="d" cx="330.4" cy="424.7" r="2.3"/>
<circle class="d" cx="363.8" cy="513.4" r="2.3"/>
<circle class="d" cx="391.6" cy="417.6" r="2.3"/>
<circle class="d" cx="384.5" cy="448" r="2.3"/>
<text x="345.3" y="370.8" font-size="8.3" text-anchor="middle" fill="#161616" stroke="#161616">C11</text>
<text x="370.2" y="370.8" font-size="8.3" text-anchor="middle" fill="#161616" stroke="#161616">470</text>
<text x="363.1" y="403.1" font-size="8.3" text-anchor="middle" fill="#161616" stroke="#161616">R25 24к</text>
<text x="411.5" y="403.1" font-size="8.3" text-anchor="middle" fill="#161616" stroke="#161616">1N4148</text>
<text x="412.2" y="368" font-size="8.3" text-anchor="middle" fill="#161616" stroke="#161616">VD8</text>
<text x="340.4" y="422.1" font-size="7.5" text-anchor="middle" fill="#161616" stroke="#161616">6</text>
<text x="380.2" y="414.6" font-size="7.5" text-anchor="middle" fill="#161616" stroke="#161616">2</text>
<text x="380.2" y="428.8" font-size="7.5" text-anchor="middle" fill="#161616" stroke="#161616">3</text>
<text x="343.9" y="457.6" font-size="8.3" text-anchor="middle" fill="#161616" stroke="#161616">DA2</text>
<text x="346.1" y="466.8" font-size="8.3" text-anchor="middle" fill="#161616" stroke="#161616">AD711,</text>
<text x="345" y="475.6" font-size="8.3" text-anchor="middle" fill="#161616" stroke="#161616">TL051</text>
<text x="345" y="484.3" font-size="8.3" text-anchor="middle" fill="#161616" stroke="#161616">TL071</text>
<text x="344.8" y="497.2" font-size="8.3" text-anchor="middle" fill="#161616" stroke="#161616">R97</text>
<text x="344.3" y="506.5" font-size="8.3" text-anchor="middle" fill="#161616" stroke="#161616">10к</text>
<text x="395.1" y="464.3" font-size="8.3" text-anchor="middle" fill="#161616" stroke="#161616">R27</text>
<text x="395.8" y="474.2" font-size="8.3" text-anchor="middle" fill="#161616" stroke="#161616">12к</text>
<circle class="d" cx="504.6" cy="53.9" r="2.3"/>
<text x="511.5" y="67.8" font-size="8.3" text-anchor="start" fill="#161616" stroke="#161616">R33</text>
<text x="511.5" y="77.3" font-size="8.3" text-anchor="start" fill="#161616" stroke="#161616">33</text>
<text x="491" y="126.3" font-size="8.3" text-anchor="middle" fill="#161616" stroke="#161616">VT20</text>
<text x="486" y="135.7" font-size="8.3" text-anchor="middle" fill="#161616" stroke="#161616">2N3906</text>
<circle class="d" cx="504.6" cy="145" r="2.3"/>
<circle class="d" cx="461.9" cy="145" r="2.3"/>
<text x="476.8" y="159.3" font-size="8.3" text-anchor="middle" fill="#161616" stroke="#161616">R30</text>
<text x="474" y="168.1" font-size="8.3" text-anchor="middle" fill="#161616" stroke="#161616">33</text>
<text x="551.5" y="159.3" font-size="8.3" text-anchor="middle" fill="#161616" stroke="#161616">R37</text>
<text x="548.6" y="168.1" font-size="8.3" text-anchor="middle" fill="#161616" stroke="#161616">33</text>
<circle class="d" cx="537.3" cy="182.5" r="2.3"/>
<text x="420.6" y="189.9" font-size="8.3" text-anchor="middle" fill="#161616" stroke="#161616">VT16</text>
<text x="420" y="204.1" font-size="8.3" text-anchor="middle" fill="#161616" stroke="#161616">2N3904</text>
<text x="491" y="218.4" font-size="8.3" text-anchor="middle" fill="#161616" stroke="#161616">VT21</text>
<text x="486.1" y="226.9" font-size="8.3" text-anchor="middle" fill="#161616" stroke="#161616">2N3904</text>
<circle class="d" cx="504.6" cy="218.2" r="2.3"/>
<text x="552.2" y="234" font-size="8.3" text-anchor="middle" fill="#161616" stroke="#161616">VT22</text>
<text x="556.5" y="244" font-size="8.3" text-anchor="middle" fill="#161616" stroke="#161616">2SA1380</text>
<circle class="d" cx="461.9" cy="212.8" r="2.3"/>
<circle class="d" cx="429.6" cy="246.3" r="2.3"/>
<text x="481.8" y="255.3" font-size="8.3" text-anchor="middle" fill="#161616" stroke="#161616">VT17</text>
<text x="482" y="264.8" font-size="8.3" text-anchor="middle" fill="#161616" stroke="#161616">2SA1380</text>
<text x="443.5" y="271.9" font-size="8.3" text-anchor="middle" fill="#161616" stroke="#161616">R28</text>
<text x="443" y="281.4" font-size="8.3" text-anchor="middle" fill="#161616" stroke="#161616">68к</text>
<text x="518.5" y="271.9" font-size="8.3" text-anchor="middle" fill="#161616" stroke="#161616">R34</text>
<text x="518" y="281.4" font-size="8.3" text-anchor="middle" fill="#161616" stroke="#161616">68к</text>
<circle class="d" cx="429.6" cy="448" r="2.3"/>
<text x="477" y="419.9" font-size="8.3" text-anchor="middle" fill="#161616" stroke="#161616">VT18</text>
<text x="482" y="429.2" font-size="8.3" text-anchor="middle" fill="#161616" stroke="#161616">2SA1380</text>
<circle class="d" cx="537.3" cy="253.4" r="2.3"/>
<circle class="d" cx="572.4" cy="253.4" r="2.3"/>
<circle class="d" cx="597.7" cy="253.4" r="2.3"/>
<circle class="d" cx="647.3" cy="253.4" r="2.3"/>
<circle class="d" cx="537.3" cy="351.6" r="2.3"/>
<circle class="d" cx="572.4" cy="351.6" r="2.3"/>
<text x="556.2" y="342.6" font-size="8.3" text-anchor="middle" fill="#161616" stroke="#161616">C14</text>
<text x="556.7" y="365.8" font-size="8.3" text-anchor="middle" fill="#161616" stroke="#161616">0,1</text>
<text x="587.7" y="312.2" font-size="8.3" text-anchor="middle" fill="#161616" stroke="#161616">R40</text>
<text x="587.7" y="321.7" font-size="8.3" text-anchor="middle" fill="#161616" stroke="#161616">5,1к</text>
<circle class="d" cx="572.4" cy="403.2" r="2.3"/>
<text x="550" y="384.1" font-size="8.3" text-anchor="middle" fill="#161616" stroke="#161616">VT23</text>
<text x="553.7" y="429.2" font-size="8.3" text-anchor="middle" fill="#161616" stroke="#161616">2N3904</text>
<circle class="d" cx="572.4" cy="457.1" r="2.3"/>
<text x="585.2" y="429.2" font-size="8.3" text-anchor="middle" fill="#161616" stroke="#161616">R41</text>
<text x="586" y="438.3" font-size="8.3" text-anchor="middle" fill="#161616" stroke="#161616">470</text>
<text x="587" y="473.8" font-size="8.3" text-anchor="middle" fill="#161616" stroke="#161616">R42</text>
<text x="583.9" y="482.6" font-size="8.3" text-anchor="middle" fill="#161616" stroke="#161616">1к</text>
<text x="585.9" y="511" font-size="8.3" text-anchor="middle" fill="#161616" stroke="#161616">C15</text>
<text x="586.4" y="520.3" font-size="8.3" text-anchor="middle" fill="#161616" stroke="#161616">47</text>
<text x="551.2" y="473.8" font-size="8.3" text-anchor="middle" fill="#161616" stroke="#161616">R38</text>
<text x="550.4" y="482.6" font-size="8.3" text-anchor="middle" fill="#161616" stroke="#161616">10*</text>
<text x="523.5" y="506.5" font-size="8.3" text-anchor="middle" fill="#161616" stroke="#161616">R36</text>
<text x="522.2" y="516" font-size="8.3" text-anchor="middle" fill="#161616" stroke="#161616">680к</text>
<circle class="d" cx="537.3" cy="494.1" r="2.3"/>
<circle class="d" cx="572.4" cy="494.1" r="2.3"/>
<circle class="d" cx="597.7" cy="494.1" r="2.3"/>
<circle class="d" cx="647.3" cy="494.1" r="2.3"/>
<text x="611.6" y="283.5" font-size="8.3" text-anchor="middle" fill="#161616" stroke="#161616">C18</text>
<text x="611.6" y="293.5" font-size="8.3" text-anchor="middle" fill="#161616" stroke="#161616">0,1</text>
<text x="524.4" y="432.8" font-size="7" text-anchor="middle" fill="#d04050" stroke="none" transform="rotate(-90 524.4 431)" textLength="102" lengthAdjust="spacingAndGlyphs">Регулировка дрейфа тока покоя</text>
<text x="604.5" y="439" font-size="7" text-anchor="middle" fill="#d04050" stroke="none" transform="rotate(-90 604.5 437.2)" textLength="77.6" lengthAdjust="spacingAndGlyphs">Регулировка тока покоя</text>
<text x="640.5" y="312.7" font-size="7.2" text-anchor="middle" fill="#c8323c" stroke="#c8323c" textLength="75.5" lengthAdjust="spacingAndGlyphs">Порог токовой защиты</text>
<circle class="d" cx="647.3" cy="316.6" r="2.3"/>
<circle class="d" cx="647.3" cy="347" r="2.3"/>
<text x="624.2" y="328" font-size="8.3" text-anchor="middle" fill="#161616" stroke="#161616">VT25</text>
<text x="626.7" y="370.3" font-size="8.3" text-anchor="middle" fill="#161616" stroke="#161616">BF423</text>
<text x="662" y="330.5" font-size="8.3" text-anchor="middle" fill="#161616" stroke="#161616">R46</text>
<text x="663.2" y="339.8" font-size="8.3" text-anchor="middle" fill="#161616" stroke="#161616">820*</text>
<text x="662" y="391.4" font-size="8.3" text-anchor="middle" fill="#161616" stroke="#161616">R47</text>
<text x="662" y="401" font-size="8.3" text-anchor="middle" fill="#161616" stroke="#161616">1к</text>
<text x="626.2" y="513.5" font-size="8.3" text-anchor="middle" fill="#161616" stroke="#161616">R43</text>
<text x="626.2" y="522.8" font-size="8.3" text-anchor="middle" fill="#161616" stroke="#161616">10 к</text>
<text x="713" y="149.8" font-size="8.3" text-anchor="middle" fill="#161616" stroke="#161616">VD10</text>
<text x="710.5" y="159.6" font-size="8.3" text-anchor="middle" fill="#161616" stroke="#161616">Д223Б</text>
<circle class="d" cx="682.6" cy="53.9" r="2.3"/>
<text x="699.7" y="223.3" font-size="8.3" text-anchor="middle" fill="#161616" stroke="#161616">VT26</text>
<text x="703.5" y="232.3" font-size="8.3" text-anchor="middle" fill="#161616" stroke="#161616">2SC3502</text>
<circle class="d" cx="682.6" cy="272.3" r="2.3"/>
<circle class="d" cx="724.9" cy="272.3" r="2.3"/>
<text x="701.9" y="265.2" font-size="8.3" text-anchor="middle" fill="#161616" stroke="#161616">R49</text>
<text x="701.9" y="283.4" font-size="8.3" text-anchor="middle" fill="#161616" stroke="#161616">15</text>
<text x="738.2" y="391.4" font-size="8.3" text-anchor="middle" fill="#161616" stroke="#161616">C21</text>
<text x="738.5" y="401" font-size="8.3" text-anchor="middle" fill="#161616" stroke="#161616">1,0</text>
<text x="697.2" y="391.4" font-size="8.3" text-anchor="middle" fill="#161616" stroke="#161616">R48</text>
<text x="697.2" y="401" font-size="8.3" text-anchor="middle" fill="#161616" stroke="#161616">150</text>
<text x="698.4" y="513.5" font-size="8.3" text-anchor="middle" fill="#161616" stroke="#161616">VT27</text>
<text x="703.5" y="522.8" font-size="8.3" text-anchor="middle" fill="#161616" stroke="#161616">2SA1380</text>
<circle class="d" cx="682.6" cy="476.5" r="2.3"/>
<circle class="d" cx="724.9" cy="476.5" r="2.3"/>
<text x="701.7" y="468.7" font-size="8.3" text-anchor="middle" fill="#161616" stroke="#161616">R50</text>
<text x="701.7" y="487.6" font-size="8.3" text-anchor="middle" fill="#161616" stroke="#161616">15</text>
<circle class="d" cx="682.6" cy="691.5" r="2.3"/>
<text x="710.5" y="595.3" font-size="8.3" text-anchor="middle" fill="#161616" stroke="#161616">VD11</text>
<text x="708" y="605.4" font-size="8.3" text-anchor="middle" fill="#161616" stroke="#161616">Д223Б</text>
<circle class="d" cx="461.9" cy="610.4" r="2.3"/>
<circle class="d" cx="497.6" cy="645.1" r="2.3"/>
<text x="477" y="595.3" font-size="8.3" text-anchor="middle" fill="#161616" stroke="#161616">VT19</text>
<text x="482" y="605.4" font-size="8.3" text-anchor="middle" fill="#161616" stroke="#161616">2SC3502</text>
<text x="550.7" y="621.5" font-size="8.3" text-anchor="middle" fill="#161616" stroke="#161616">VT24</text>
<text x="557.5" y="631.1" font-size="8.3" text-anchor="middle" fill="#161616" stroke="#161616">2SC3502</text>
<text x="477" y="675.5" font-size="8.3" text-anchor="middle" fill="#161616" stroke="#161616">R31</text>
<text x="476.4" y="685" font-size="8.3" text-anchor="middle" fill="#161616" stroke="#161616">120</text>
<text x="552" y="675.5" font-size="8.3" text-anchor="middle" fill="#161616" stroke="#161616">R39</text>
<text x="551.5" y="685" font-size="8.3" text-anchor="middle" fill="#161616" stroke="#161616">120</text>
<text x="122.8" y="482.6" font-size="8.3" text-anchor="middle" fill="#161616" stroke="#161616">R5</text>
<text x="124.6" y="492.1" font-size="8.3" text-anchor="middle" fill="#161616" stroke="#161616">6,8к</text>
<text x="123.8" y="513.5" font-size="8.3" text-anchor="middle" fill="#161616" stroke="#161616">VT5</text>
<text x="128.9" y="523.3" font-size="8.3" text-anchor="middle" fill="#161616" stroke="#161616">2N5551</text>
<text x="124.1" y="602.9" font-size="8.3" text-anchor="middle" fill="#161616" stroke="#161616">VT6</text>
<text x="128.9" y="612.2" font-size="8.3" text-anchor="middle" fill="#161616" stroke="#161616">2N3904</text>
<circle class="d" cx="110.2" cy="661.5" r="2.3"/>
<text x="122.5" y="675.3" font-size="8.3" text-anchor="middle" fill="#161616" stroke="#161616">R6</text>
<text x="124" y="685" font-size="8.3" text-anchor="middle" fill="#161616" stroke="#161616">330</text>
<text x="151.4" y="626.3" font-size="8.3" text-anchor="middle" fill="#161616" stroke="#161616">VT7</text>
<text x="147.8" y="640.4" font-size="8.3" text-anchor="middle" fill="#161616" stroke="#161616">2N3904</text>
<text x="176.2" y="482.6" font-size="8.3" text-anchor="middle" fill="#161616" stroke="#161616">R8</text>
<text x="178.7" y="492.1" font-size="8.3" text-anchor="middle" fill="#161616" stroke="#161616">33к</text>
<text x="176.2" y="572.4" font-size="8.3" text-anchor="middle" fill="#161616" stroke="#161616">R9</text>
<text x="178.7" y="582" font-size="8.3" text-anchor="middle" fill="#161616" stroke="#161616">3,3к</text>
<circle class="d" cx="164.6" cy="541.4" r="2.3"/>
<circle class="d" cx="190" cy="541.4" r="2.3"/>
<circle class="d" cx="241.6" cy="541.4" r="2.3"/>
<text x="219" y="534.7" font-size="8.3" text-anchor="middle" fill="#161616" stroke="#161616">R13</text>
<text x="218.5" y="553" font-size="8.3" text-anchor="middle" fill="#161616" stroke="#161616">100</text>
<text x="179" y="605.3" font-size="8.3" text-anchor="middle" fill="#161616" stroke="#161616">C3</text>
<text x="177.8" y="614.3" font-size="8.3" text-anchor="middle" fill="#161616" stroke="#161616">100,0</text>
<circle class="d" cx="164.6" cy="630.9" r="2.3"/>
<text x="209.5" y="617" font-size="8.3" text-anchor="middle" fill="#161616" stroke="#161616">VT12</text>
<text x="211.5" y="626.3" font-size="8.3" text-anchor="middle" fill="#161616" stroke="#161616">2N3904</text>
<circle class="d" cx="241.8" cy="661.5" r="2.3"/>
<circle class="d" cx="241.8" cy="581.7" r="2.3"/>
<text x="256.4" y="556" font-size="8.3" text-anchor="middle" fill="#161616" stroke="#161616">R16</text>
<text x="252.8" y="565.5" font-size="8.3" text-anchor="middle" fill="#161616" stroke="#161616">1к</text>
<text x="247.8" y="525" font-size="8.3" text-anchor="middle" fill="#161616" stroke="#161616">VT14</text>
<text x="251.4" y="534.6" font-size="8.3" text-anchor="middle" fill="#161616" stroke="#161616">2N3904</text>
<text x="256.3" y="675.5" font-size="8.3" text-anchor="middle" fill="#161616" stroke="#161616">R17</text>
<text x="253.5" y="685.5" font-size="8.3" text-anchor="middle" fill="#161616" stroke="#161616">1к</text>
<text x="284.1" y="541.3" font-size="8.3" text-anchor="middle" fill="#161616" stroke="#161616">VT15</text>
<text x="286.9" y="551.3" font-size="8.3" text-anchor="middle" fill="#161616" stroke="#161616">2N3906</text>
<text x="284.8" y="675.5" font-size="8.3" text-anchor="middle" fill="#161616" stroke="#161616">R20</text>
<text x="284.8" y="685.5" font-size="8.3" text-anchor="middle" fill="#161616" stroke="#161616">2,2к</text>
<circle class="d" cx="270.2" cy="628.4" r="2.3"/>
<circle class="d" cx="300.5" cy="628.4" r="2.3"/>
<text x="292.6" y="654.2" font-size="8.3" text-anchor="middle" fill="#161616" stroke="#161616">C7</text>
<text x="290.5" y="663.4" font-size="8.3" text-anchor="middle" fill="#161616" stroke="#161616">0,15</text>
<circle class="d" cx="318.9" cy="656.9" r="2.3"/>
<text x="321.7" y="610.1" font-size="8.3" text-anchor="middle" fill="#161616" stroke="#161616">SA1</text>
<text x="333.3" y="619.1" font-size="7.8" text-anchor="middle" fill="#c8323c" stroke="#c8323c" textLength="60.5" lengthAdjust="spacingAndGlyphs">"Сброс защиты"</text>
<text x="348.8" y="642.1" font-size="8.3" text-anchor="middle" fill="#161616" stroke="#161616">C8</text>
<text x="347.4" y="652" font-size="8.3" text-anchor="middle" fill="#161616" stroke="#161616">1,0</text>
<text x="333.1" y="673.4" font-size="8.3" text-anchor="middle" fill="#161616" stroke="#161616">R23</text>
<text x="332.4" y="682.6" font-size="8.3" text-anchor="middle" fill="#161616" stroke="#161616">1 М</text>
<text x="387.8" y="539.5" font-size="8.3" text-anchor="middle" fill="#2b3a9a" stroke="#2b3a9a">-15 В</text>
<circle class="d" cx="384.4" cy="586.5" r="2.3"/>
<circle class="d" cx="384.4" cy="605.3" r="2.3"/>
<circle class="d" cx="405.7" cy="605.3" r="2.3"/>
<circle class="d" cx="384.4" cy="633.4" r="2.3"/>
<text x="397.2" y="567.3" font-size="8.3" text-anchor="middle" fill="#161616" stroke="#161616">C12</text>
<text x="395" y="576.9" font-size="8.3" text-anchor="middle" fill="#161616" stroke="#161616">2,2</text>
<text x="395" y="621.5" font-size="8.3" text-anchor="middle" fill="#161616" stroke="#161616">C13</text>
<text x="419.2" y="621.5" font-size="8.3" text-anchor="middle" fill="#161616" stroke="#161616">1000,0</text>
<text x="400" y="649.9" font-size="8.3" text-anchor="middle" fill="#161616" stroke="#161616">VD4</text>
<text x="397.8" y="659.2" font-size="8.3" text-anchor="middle" fill="#161616" stroke="#161616">15 В</text>
<text x="399.3" y="675.5" font-size="8.3" text-anchor="middle" fill="#161616" stroke="#161616">R26</text>
<text x="399.3" y="685.5" font-size="8.3" text-anchor="middle" fill="#161616" stroke="#161616">2,7к</text>
<circle class="d" cx="164.6" cy="691.5" r="2.3"/>
<circle class="d" cx="190" cy="691.5" r="2.3"/>
<circle class="d" cx="204.1" cy="691.5" r="2.3"/>
<circle class="d" cx="241.8" cy="691.5" r="2.3"/>
<circle class="d" cx="270.2" cy="691.5" r="2.3"/>
<circle class="d" cx="300.5" cy="691.5" r="2.3"/>
<circle class="d" cx="318.9" cy="691.5" r="2.3"/>
<circle class="d" cx="347.4" cy="691.5" r="2.3"/>
<circle class="d" cx="384.4" cy="691.5" r="2.3"/>
<circle class="d" cx="461.9" cy="691.5" r="2.3"/>
<circle class="d" cx="537.3" cy="691.5" r="2.3"/>
<circle class="d" cx="586.5" cy="53.9" r="2.3"/>
<circle class="d" cx="610" cy="53.9" r="2.3"/>
<text x="586.5" y="88.8" font-size="7.6" text-anchor="middle" fill="#161616" stroke="#161616">C16</text>
<text x="587" y="98.2" font-size="7.6" text-anchor="middle" fill="#161616" stroke="#161616">1,0</text>
<text x="610" y="88.8" font-size="7.5" text-anchor="middle" fill="#161616" stroke="#161616">C19</text>
<text x="612.3" y="98.2" font-size="7.5" text-anchor="middle" fill="#161616" stroke="#161616">1000,0</text>
<text x="612.3" y="107.4" font-size="7.5" text-anchor="middle" fill="#161616" stroke="#161616">100 В</text>
<text x="642.5" y="67.5" font-size="7.6" text-anchor="middle" fill="#161616" stroke="#161616">R44</text>
<text x="644.3" y="77" font-size="7.6" text-anchor="middle" fill="#161616" stroke="#161616">47</text>
<circle class="d" cx="767.1" cy="53.9" r="2.3"/>
<circle class="d" cx="790.3" cy="53.9" r="2.3"/>
<text x="750.5" y="63.2" font-size="7.6" text-anchor="middle" fill="#161616" stroke="#161616">C22</text>
<text x="751" y="72.2" font-size="7.6" text-anchor="middle" fill="#161616" stroke="#161616">1,0</text>
<text x="790.3" y="88.8" font-size="7.5" text-anchor="middle" fill="#161616" stroke="#161616">C24</text>
<text x="787.8" y="98.2" font-size="7.5" text-anchor="middle" fill="#161616" stroke="#161616">1000,0</text>
<text x="787.8" y="107.4" font-size="7.5" text-anchor="middle" fill="#161616" stroke="#161616">100 В</text>
<text x="846.5" y="67.5" font-size="7.6" text-anchor="middle" fill="#161616" stroke="#161616">R57  22</text>
<circle class="d" cx="1273.5" cy="53.9" r="2.3"/>
<circle class="d" cx="1296.9" cy="53.9" r="2.3"/>
<text x="1271" y="88.8" font-size="7.5" text-anchor="middle" fill="#161616" stroke="#161616">C57</text>
<text x="1271" y="98.2" font-size="7.5" text-anchor="middle" fill="#161616" stroke="#161616">1000,0</text>
<text x="1271" y="107.4" font-size="7.5" text-anchor="middle" fill="#161616" stroke="#161616">100 В</text>
<text x="1296.9" y="88.8" font-size="7.6" text-anchor="middle" fill="#161616" stroke="#161616">C59</text>
<text x="1295" y="98" font-size="7.6" text-anchor="middle" fill="#161616" stroke="#161616">1,0</text>
<circle class="d" cx="1320.1" cy="53.9" r="2.3"/>
<text x="1366.8" y="60.8" font-size="8.3" text-anchor="middle" fill="#333" stroke="#333">+ 68 В</text>
<circle class="d" cx="755" cy="171" r="2.3"/>
<circle class="d" cx="807.1" cy="171" r="2.3"/>
<circle class="d" cx="905.3" cy="171" r="2.3"/>
<circle class="d" cx="968.5" cy="171" r="2.3"/>
<circle class="d" cx="1046.3" cy="171" r="2.3"/>
<circle class="d" cx="1109.2" cy="171" r="2.3"/>
<circle class="d" cx="1273.5" cy="171" r="2.3"/>
<circle class="d" cx="839.9" cy="171" r="2.3"/>
<circle class="d" cx="860.7" cy="171" r="2.3"/>
<circle class="d" cx="884.2" cy="171" r="2.3"/>
<circle class="d" cx="928.7" cy="171" r="2.3"/>
<circle class="d" cx="956.9" cy="171" r="2.3"/>
<circle class="d" cx="979.8" cy="171" r="2.3"/>
<circle class="d" cx="1001.7" cy="171" r="2.3"/>
<circle class="d" cx="1025.1" cy="171" r="2.3"/>
<circle class="d" cx="1069.7" cy="171" r="2.3"/>
<circle class="d" cx="1097.8" cy="171" r="2.3"/>
<circle class="d" cx="1208" cy="171" r="2.3"/>
<circle class="d" cx="1231.2" cy="171" r="2.3"/>
<circle class="d" cx="1254.6" cy="171" r="2.3"/>
<text x="823" y="180" font-size="7.6" text-anchor="middle" fill="#161616" stroke="#161616">C26</text>
<text x="823.7" y="189.5" font-size="7.6" text-anchor="middle" fill="#161616" stroke="#161616">2,2</text>
<text x="855.7" y="206" font-size="7.5" text-anchor="middle" fill="#161616" stroke="#161616">C29</text>
<text x="855.7" y="215.4" font-size="7.5" text-anchor="middle" fill="#161616" stroke="#161616">4700,0</text>
<text x="855.7" y="224.6" font-size="7.5" text-anchor="middle" fill="#161616" stroke="#161616">63 В</text>
<text x="884.2" y="206" font-size="7.5" text-anchor="middle" fill="#161616" stroke="#161616">C31</text>
<text x="884.2" y="215.4" font-size="7.5" text-anchor="middle" fill="#161616" stroke="#161616">4700,0</text>
<text x="884.2" y="224.6" font-size="7.5" text-anchor="middle" fill="#161616" stroke="#161616">63 В</text>
<text x="927" y="206" font-size="7.6" text-anchor="middle" fill="#161616" stroke="#161616">C33</text>
<text x="927" y="215.4" font-size="7.6" text-anchor="middle" fill="#161616" stroke="#161616">2,2</text>
<text x="956.9" y="206" font-size="7.6" text-anchor="middle" fill="#161616" stroke="#161616">C35</text>
<text x="956.9" y="215.4" font-size="7.6" text-anchor="middle" fill="#161616" stroke="#161616">2,2</text>
<text x="977.8" y="206" font-size="7.6" text-anchor="middle" fill="#161616" stroke="#161616">C37</text>
<text x="977.8" y="215.4" font-size="7.6" text-anchor="middle" fill="#161616" stroke="#161616">2,2</text>
<text x="996.7" y="206" font-size="7.5" text-anchor="middle" fill="#161616" stroke="#161616">C39</text>
<text x="996.7" y="215.4" font-size="7.5" text-anchor="middle" fill="#161616" stroke="#161616">4700,0</text>
<text x="996.7" y="224.6" font-size="7.5" text-anchor="middle" fill="#161616" stroke="#161616">63 В</text>
<text x="1024.3" y="206" font-size="7.5" text-anchor="middle" fill="#161616" stroke="#161616">C41</text>
<text x="1024.3" y="215.4" font-size="7.5" text-anchor="middle" fill="#161616" stroke="#161616">4700,0</text>
<text x="1024.3" y="224.6" font-size="7.5" text-anchor="middle" fill="#161616" stroke="#161616">63 В</text>
<text x="1067.1" y="206" font-size="7.6" text-anchor="middle" fill="#161616" stroke="#161616">C43</text>
<text x="1067.1" y="215.4" font-size="7.6" text-anchor="middle" fill="#161616" stroke="#161616">2,2</text>
<text x="1097.8" y="206" font-size="7.6" text-anchor="middle" fill="#161616" stroke="#161616">C45</text>
<text x="1097.8" y="215.4" font-size="7.6" text-anchor="middle" fill="#161616" stroke="#161616">2,2</text>
<text x="1203" y="206" font-size="7.5" text-anchor="middle" fill="#161616" stroke="#161616">C48</text>
<text x="1203" y="215.4" font-size="7.5" text-anchor="middle" fill="#161616" stroke="#161616">4700,0</text>
<text x="1203" y="224.6" font-size="7.5" text-anchor="middle" fill="#161616" stroke="#161616">63 В</text>
<text x="1230.7" y="206" font-size="7.5" text-anchor="middle" fill="#161616" stroke="#161616">C51</text>
<text x="1230.7" y="215.4" font-size="7.5" text-anchor="middle" fill="#161616" stroke="#161616">4700,0</text>
<text x="1230.7" y="224.6" font-size="7.5" text-anchor="middle" fill="#161616" stroke="#161616">63 В</text>
<text x="1254.6" y="206" font-size="7.5" text-anchor="middle" fill="#161616" stroke="#161616">C54</text>
<text x="1254.6" y="215.4" font-size="7.5" text-anchor="middle" fill="#161616" stroke="#161616">4700,0</text>
<text x="1254.6" y="224.6" font-size="7.5" text-anchor="middle" fill="#161616" stroke="#161616">63 В</text>
<text x="1207.2" y="164" font-size="8.3" text-anchor="middle" fill="#333" stroke="#333">+ 53 В</text>
<text x="768.9" y="241.2" font-size="8" text-anchor="middle" fill="#161616" stroke="#161616">VT28</text>
<text x="774" y="250.4" font-size="8" text-anchor="middle" fill="#161616" stroke="#161616">2SC3298</text>
<text x="821" y="241.2" font-size="8" text-anchor="middle" fill="#161616" stroke="#161616">VT30</text>
<text x="825.5" y="250.4" font-size="8" text-anchor="middle" fill="#161616" stroke="#161616">2SC3298</text>
<circle class="d" cx="755" cy="311.9" r="2.3"/>
<circle class="d" cx="842.4" cy="311.9" r="2.3"/>
<circle class="d" cx="807.1" cy="290.8" r="2.3"/>
<text x="823.5" y="274" font-size="7.6" text-anchor="middle" fill="#161616" stroke="#161616">R55</text>
<text x="824.3" y="283.2" font-size="7.6" text-anchor="middle" fill="#161616" stroke="#161616">2,2</text>
<text x="772.1" y="295" font-size="7.6" text-anchor="middle" fill="#161616" stroke="#161616">R52</text>
<text x="772.1" y="304.5" font-size="7.6" text-anchor="middle" fill="#161616" stroke="#161616">2,2</text>
<text x="741.2" y="358.7" font-size="7.6" text-anchor="middle" fill="#161616" stroke="#161616">R51</text>
<text x="743" y="368" font-size="7.6" text-anchor="middle" fill="#161616" stroke="#161616">12</text>
<text x="821" y="358.4" font-size="7.6" text-anchor="middle" fill="#161616" stroke="#161616">R54</text>
<text x="819.2" y="368" font-size="7.6" text-anchor="middle" fill="#161616" stroke="#161616">12</text>
<text x="828" y="391.1" font-size="7.6" text-anchor="middle" fill="#161616" stroke="#161616">C28</text>
<text x="828" y="400.7" font-size="7.6" text-anchor="middle" fill="#161616" stroke="#161616">1,0</text>
<circle class="d" cx="755" cy="436" r="2.3"/>
<circle class="d" cx="842.4" cy="436" r="2.3"/>
<text x="772.1" y="447.3" font-size="7.6" text-anchor="middle" fill="#161616" stroke="#161616">R53</text>
<text x="772.1" y="457.1" font-size="7.6" text-anchor="middle" fill="#161616" stroke="#161616">2,2</text>
<circle class="d" cx="807.1" cy="457.1" r="2.3"/>
<text x="823.5" y="468.4" font-size="7.6" text-anchor="middle" fill="#161616" stroke="#161616">R56</text>
<text x="824.3" y="478" font-size="7.6" text-anchor="middle" fill="#161616" stroke="#161616">2,2</text>
<text x="768.9" y="494.6" font-size="8" text-anchor="middle" fill="#161616" stroke="#161616">VT29</text>
<text x="773.9" y="503.9" font-size="8" text-anchor="middle" fill="#161616" stroke="#161616">2SA1306</text>
<text x="821" y="494.6" font-size="8" text-anchor="middle" fill="#161616" stroke="#161616">VT31</text>
<text x="828" y="503.9" font-size="8" text-anchor="middle" fill="#161616" stroke="#161616">2SA1306</text>
<circle class="d" cx="870.3" cy="340.3" r="2.3"/>
<circle class="d" cx="870.3" cy="375.4" r="2.3"/>
<circle class="d" cx="870.3" cy="410.5" r="2.3"/>
<circle class="d" cx="881.4" cy="340.3" r="2.3"/>
<circle class="d" cx="881.4" cy="375.4" r="2.3"/>
<circle class="d" cx="881.4" cy="410.5" r="2.3"/>
<circle class="d" cx="893.5" cy="340.3" r="2.3"/>
<circle class="d" cx="893.5" cy="375.4" r="2.3"/>
<circle class="d" cx="893.5" cy="410.5" r="2.3"/>
<circle class="d" cx="905.3" cy="340.3" r="2.3"/>
<circle class="d" cx="905.3" cy="375.4" r="2.3"/>
<circle class="d" cx="905.3" cy="410.5" r="2.3"/>
<circle class="d" cx="933.7" cy="340.3" r="2.3"/>
<circle class="d" cx="933.7" cy="375.4" r="2.3"/>
<circle class="d" cx="933.7" cy="410.5" r="2.3"/>
<circle class="d" cx="945.1" cy="340.3" r="2.3"/>
<circle class="d" cx="945.1" cy="375.4" r="2.3"/>
<circle class="d" cx="945.1" cy="410.5" r="2.3"/>
<circle class="d" cx="956.9" cy="340.3" r="2.3"/>
<circle class="d" cx="956.9" cy="375.4" r="2.3"/>
<circle class="d" cx="956.9" cy="410.5" r="2.3"/>
<circle class="d" cx="968.5" cy="340.3" r="2.3"/>
<circle class="d" cx="968.5" cy="375.4" r="2.3"/>
<circle class="d" cx="968.5" cy="410.5" r="2.3"/>
<circle class="d" cx="1010.5" cy="340.3" r="2.3"/>
<circle class="d" cx="1010.5" cy="375.4" r="2.3"/>
<circle class="d" cx="1010.5" cy="410.5" r="2.3"/>
<circle class="d" cx="1022.6" cy="340.3" r="2.3"/>
<circle class="d" cx="1022.6" cy="375.4" r="2.3"/>
<circle class="d" cx="1022.6" cy="410.5" r="2.3"/>
<circle class="d" cx="1034.4" cy="340.3" r="2.3"/>
<circle class="d" cx="1034.4" cy="375.4" r="2.3"/>
<circle class="d" cx="1034.4" cy="410.5" r="2.3"/>
<circle class="d" cx="1046.3" cy="340.3" r="2.3"/>
<circle class="d" cx="1046.3" cy="375.4" r="2.3"/>
<circle class="d" cx="1046.3" cy="410.5" r="2.3"/>
<circle class="d" cx="1074.7" cy="340.3" r="2.3"/>
<circle class="d" cx="1074.7" cy="375.4" r="2.3"/>
<circle class="d" cx="1074.7" cy="410.5" r="2.3"/>
<circle class="d" cx="1086" cy="340.3" r="2.3"/>
<circle class="d" cx="1086" cy="375.4" r="2.3"/>
<circle class="d" cx="1086" cy="410.5" r="2.3"/>
<circle class="d" cx="1097.8" cy="340.3" r="2.3"/>
<circle class="d" cx="1097.8" cy="375.4" r="2.3"/>
<circle class="d" cx="1097.8" cy="410.5" r="2.3"/>
<circle class="d" cx="1109.2" cy="340.3" r="2.3"/>
<circle class="d" cx="1109.2" cy="375.4" r="2.3"/>
<circle class="d" cx="1109.2" cy="410.5" r="2.3"/>
<text x="919.1" y="267.5" font-size="8" text-anchor="middle" fill="#161616" stroke="#161616">VT32</text>
<text x="923.7" y="276.3" font-size="8" text-anchor="middle" fill="#161616" stroke="#161616">2SC5200</text>
<text x="982.8" y="267.5" font-size="8" text-anchor="middle" fill="#161616" stroke="#161616">VT34</text>
<text x="987.9" y="276.3" font-size="8" text-anchor="middle" fill="#161616" stroke="#161616">2SC5200</text>
<text x="1062.1" y="288.2" font-size="8" text-anchor="middle" fill="#161616" stroke="#161616">VT36</text>
<text x="1064.6" y="297" font-size="8" text-anchor="middle" fill="#161616" stroke="#161616">2SC5200</text>
<text x="1121" y="288.2" font-size="8" text-anchor="middle" fill="#161616" stroke="#161616">VT38</text>
<text x="1126" y="297" font-size="8" text-anchor="middle" fill="#161616" stroke="#161616">2SC5200</text>
<text x="919.1" y="473.7" font-size="8" text-anchor="middle" fill="#161616" stroke="#161616">VT33</text>
<text x="923.7" y="482.5" font-size="8" text-anchor="middle" fill="#161616" stroke="#161616">2SA1943</text>
<text x="982.8" y="473.7" font-size="8" text-anchor="middle" fill="#161616" stroke="#161616">VT35</text>
<text x="987.9" y="482.5" font-size="8" text-anchor="middle" fill="#161616" stroke="#161616">2SA1943</text>
<text x="1062.1" y="454" font-size="8" text-anchor="middle" fill="#161616" stroke="#161616">VT37</text>
<text x="1064.6" y="461.8" font-size="8" text-anchor="middle" fill="#161616" stroke="#161616">2SA1943</text>
<text x="1121" y="454" font-size="8" text-anchor="middle" fill="#161616" stroke="#161616">VT39</text>
<text x="1126" y="461.8" font-size="8" text-anchor="middle" fill="#161616" stroke="#161616">2SA1943</text>
<text x="877.1" y="335.3" font-size="7.6" text-anchor="middle" fill="#161616" stroke="#161616">R61</text>
<text x="877.1" y="419.6" font-size="7.6" text-anchor="middle" fill="#161616" stroke="#161616">R62</text>
<text x="893.5" y="335.3" font-size="7.6" text-anchor="middle" fill="#161616" stroke="#161616">R63</text>
<text x="893.5" y="419.6" font-size="7.6" text-anchor="middle" fill="#161616" stroke="#161616">R64</text>
<text x="914.9" y="335.3" font-size="7.6" text-anchor="middle" fill="#161616" stroke="#161616">R65</text>
<text x="914.9" y="419.6" font-size="7.6" text-anchor="middle" fill="#161616" stroke="#161616">R66</text>
<text x="855.7" y="356.2" font-size="7.6" text-anchor="middle" fill="#161616" stroke="#161616">R59</text>
<text x="855.7" y="391.1" font-size="7.6" text-anchor="middle" fill="#161616" stroke="#161616">R60</text>
<text x="862.8" y="365.5" font-size="7.6" text-anchor="middle" fill="#161616" stroke="#161616">1</text>
<text x="862.8" y="400.7" font-size="7.6" text-anchor="middle" fill="#161616" stroke="#161616">1</text>
<text x="940" y="335.3" font-size="7.6" text-anchor="middle" fill="#161616" stroke="#161616">R69</text>
<text x="940" y="419.6" font-size="7.6" text-anchor="middle" fill="#161616" stroke="#161616">R70</text>
<text x="958.9" y="335.3" font-size="7.6" text-anchor="middle" fill="#161616" stroke="#161616">R71</text>
<text x="958.9" y="419.6" font-size="7.6" text-anchor="middle" fill="#161616" stroke="#161616">R72</text>
<text x="919.1" y="356.2" font-size="7.6" text-anchor="middle" fill="#161616" stroke="#161616">R67</text>
<text x="919.1" y="391.1" font-size="7.6" text-anchor="middle" fill="#161616" stroke="#161616">R68</text>
<text x="926" y="365.5" font-size="7.6" text-anchor="middle" fill="#161616" stroke="#161616">1</text>
<text x="926" y="400.7" font-size="7.6" text-anchor="middle" fill="#161616" stroke="#161616">1</text>
<text x="977" y="358" font-size="7.6" text-anchor="middle" fill="#161616" stroke="#161616" transform="rotate(90 977 356)">R73</text>
<text x="977.8" y="413.5" font-size="7.6" text-anchor="middle" fill="#161616" stroke="#161616" transform="rotate(90 977.8 411.5)">R74</text>
<text x="1017.6" y="335.3" font-size="7.6" text-anchor="middle" fill="#161616" stroke="#161616">R77</text>
<text x="1017.6" y="419.6" font-size="7.6" text-anchor="middle" fill="#161616" stroke="#161616">R78</text>
<text x="1034.4" y="335.3" font-size="7.6" text-anchor="middle" fill="#161616" stroke="#161616">R79</text>
<text x="1034.4" y="419.6" font-size="7.6" text-anchor="middle" fill="#161616" stroke="#161616">R80</text>
<text x="1055.3" y="335.3" font-size="7.6" text-anchor="middle" fill="#161616" stroke="#161616">R81</text>
<text x="1055.3" y="419.6" font-size="7.6" text-anchor="middle" fill="#161616" stroke="#161616">R82</text>
<text x="996.7" y="356.2" font-size="7.6" text-anchor="middle" fill="#161616" stroke="#161616">R75</text>
<text x="996.7" y="391.1" font-size="7.6" text-anchor="middle" fill="#161616" stroke="#161616">R76</text>
<text x="1003" y="365.5" font-size="7.6" text-anchor="middle" fill="#161616" stroke="#161616">1</text>
<text x="1003" y="400.7" font-size="7.6" text-anchor="middle" fill="#161616" stroke="#161616">1</text>
<text x="1081" y="335.3" font-size="7.6" text-anchor="middle" fill="#161616" stroke="#161616">R85</text>
<text x="1081" y="419.6" font-size="7.6" text-anchor="middle" fill="#161616" stroke="#161616">R86</text>
<text x="1099.9" y="335.3" font-size="7.6" text-anchor="middle" fill="#161616" stroke="#161616">R87</text>
<text x="1099.9" y="419.6" font-size="7.6" text-anchor="middle" fill="#161616" stroke="#161616">R88</text>
<text x="1060.3" y="356.2" font-size="7.6" text-anchor="middle" fill="#161616" stroke="#161616">R83</text>
<text x="1060.3" y="391.1" font-size="7.6" text-anchor="middle" fill="#161616" stroke="#161616">R84</text>
<text x="1067" y="365.5" font-size="7.6" text-anchor="middle" fill="#161616" stroke="#161616">1</text>
<text x="1067" y="400.7" font-size="7.6" text-anchor="middle" fill="#161616" stroke="#161616">1</text>
<text x="1118" y="358" font-size="7.6" text-anchor="middle" fill="#161616" stroke="#161616" transform="rotate(90 1118 356)">R89</text>
<text x="1118" y="413.5" font-size="7.6" text-anchor="middle" fill="#161616" stroke="#161616" transform="rotate(90 1118 411.5)">R90</text>
<circle class="d" cx="755" cy="579.2" r="2.3"/>
<circle class="d" cx="807.1" cy="579.2" r="2.3"/>
<circle class="d" cx="905.3" cy="579.2" r="2.3"/>
<circle class="d" cx="968.5" cy="579.2" r="2.3"/>
<circle class="d" cx="1046.3" cy="579.2" r="2.3"/>
<circle class="d" cx="1109.2" cy="579.2" r="2.3"/>
<circle class="d" cx="1273.5" cy="579.2" r="2.3"/>
<circle class="d" cx="837.6" cy="579.2" r="2.3"/>
<circle class="d" cx="858.2" cy="579.2" r="2.3"/>
<circle class="d" cx="881.6" cy="579.2" r="2.3"/>
<circle class="d" cx="928.7" cy="579.2" r="2.3"/>
<circle class="d" cx="956.9" cy="579.2" r="2.3"/>
<circle class="d" cx="977.8" cy="579.2" r="2.3"/>
<circle class="d" cx="999.2" cy="579.2" r="2.3"/>
<circle class="d" cx="1022.6" cy="579.2" r="2.3"/>
<circle class="d" cx="1069.7" cy="579.2" r="2.3"/>
<circle class="d" cx="1097.8" cy="579.2" r="2.3"/>
<circle class="d" cx="1208" cy="579.2" r="2.3"/>
<circle class="d" cx="1231.5" cy="579.2" r="2.3"/>
<circle class="d" cx="1254.6" cy="579.2" r="2.3"/>
<text x="821" y="559.8" font-size="7.6" text-anchor="middle" fill="#161616" stroke="#161616">C27</text>
<text x="821" y="569.9" font-size="7.6" text-anchor="middle" fill="#161616" stroke="#161616">2,2</text>
<text x="855.7" y="527.6" font-size="7.5" text-anchor="middle" fill="#161616" stroke="#161616">C30</text>
<text x="853.7" y="537" font-size="7.5" text-anchor="middle" fill="#161616" stroke="#161616">4700,0</text>
<text x="853.7" y="546.2" font-size="7.5" text-anchor="middle" fill="#161616" stroke="#161616">63 В</text>
<text x="884.2" y="527.6" font-size="7.5" text-anchor="middle" fill="#161616" stroke="#161616">C32</text>
<text x="884.2" y="537" font-size="7.5" text-anchor="middle" fill="#161616" stroke="#161616">4700,0</text>
<text x="884.2" y="546.2" font-size="7.5" text-anchor="middle" fill="#161616" stroke="#161616">63 В</text>
<text x="928.7" y="537" font-size="7.6" text-anchor="middle" fill="#161616" stroke="#161616">C34</text>
<text x="928.7" y="546" font-size="7.6" text-anchor="middle" fill="#161616" stroke="#161616">2,2</text>
<text x="954.4" y="537" font-size="7.6" text-anchor="middle" fill="#161616" stroke="#161616">C36</text>
<text x="954.4" y="546" font-size="7.6" text-anchor="middle" fill="#161616" stroke="#161616">2,2</text>
<text x="977.8" y="537" font-size="7.6" text-anchor="middle" fill="#161616" stroke="#161616">C38</text>
<text x="977.8" y="546" font-size="7.6" text-anchor="middle" fill="#161616" stroke="#161616">2,2</text>
<text x="996.7" y="527.6" font-size="7.5" text-anchor="middle" fill="#161616" stroke="#161616">C40</text>
<text x="998.7" y="537" font-size="7.5" text-anchor="middle" fill="#161616" stroke="#161616">4700,0</text>
<text x="998.7" y="546.2" font-size="7.5" text-anchor="middle" fill="#161616" stroke="#161616">63 В</text>
<text x="1025.1" y="527.6" font-size="7.5" text-anchor="middle" fill="#161616" stroke="#161616">C42</text>
<text x="1025.1" y="537" font-size="7.5" text-anchor="middle" fill="#161616" stroke="#161616">4700,0</text>
<text x="1025.1" y="546.2" font-size="7.5" text-anchor="middle" fill="#161616" stroke="#161616">63 В</text>
<text x="1069.7" y="537" font-size="7.6" text-anchor="middle" fill="#161616" stroke="#161616">C44</text>
<text x="1069.7" y="546" font-size="7.6" text-anchor="middle" fill="#161616" stroke="#161616">2,2</text>
<text x="1095.3" y="537" font-size="7.6" text-anchor="middle" fill="#161616" stroke="#161616">C46</text>
<text x="1095.3" y="546" font-size="7.6" text-anchor="middle" fill="#161616" stroke="#161616">2,2</text>
<text x="1205.5" y="530.1" font-size="7.5" text-anchor="middle" fill="#161616" stroke="#161616">C49</text>
<text x="1206" y="539.5" font-size="7.5" text-anchor="middle" fill="#161616" stroke="#161616">4700,0</text>
<text x="1206" y="548.7" font-size="7.5" text-anchor="middle" fill="#161616" stroke="#161616">63 В</text>
<text x="1231.5" y="530.1" font-size="7.5" text-anchor="middle" fill="#161616" stroke="#161616">C52</text>
<text x="1231.5" y="539.5" font-size="7.5" text-anchor="middle" fill="#161616" stroke="#161616">4700,0</text>
<text x="1231.5" y="548.7" font-size="7.5" text-anchor="middle" fill="#161616" stroke="#161616">63 В</text>
<text x="1254.6" y="530.1" font-size="7.5" text-anchor="middle" fill="#161616" stroke="#161616">C56</text>
<text x="1254.6" y="539.5" font-size="7.5" text-anchor="middle" fill="#161616" stroke="#161616">4700,0</text>
<text x="1254.6" y="548.7" font-size="7.5" text-anchor="middle" fill="#161616" stroke="#161616">63 В</text>
<text x="1216.8" y="590.8" font-size="8.3" text-anchor="middle" fill="#333" stroke="#333">- 53 В</text>
<circle class="d" cx="586.4" cy="691.5" r="2.3"/>
<circle class="d" cx="609.8" cy="691.5" r="2.3"/>
<text x="586.4" y="649.7" font-size="7.6" text-anchor="middle" fill="#161616" stroke="#161616">C17</text>
<text x="587.2" y="658.5" font-size="7.6" text-anchor="middle" fill="#161616" stroke="#161616">1,0</text>
<text x="609.8" y="640.1" font-size="7.5" text-anchor="middle" fill="#161616" stroke="#161616">C20</text>
<text x="611.6" y="649.5" font-size="7.5" text-anchor="middle" fill="#161616" stroke="#161616">1000,0</text>
<text x="611.6" y="658.7" font-size="7.5" text-anchor="middle" fill="#161616" stroke="#161616">100 В</text>
<text x="642.6" y="675.2" font-size="7.6" text-anchor="middle" fill="#161616" stroke="#161616">R45</text>
<text x="642.6" y="684.7" font-size="7.6" text-anchor="middle" fill="#161616" stroke="#161616">47</text>
<circle class="d" cx="767.1" cy="691.5" r="2.3"/>
<circle class="d" cx="790.3" cy="691.5" r="2.3"/>
<text x="750.5" y="672.9" font-size="7.6" text-anchor="middle" fill="#161616" stroke="#161616">C23</text>
<text x="751" y="682.2" font-size="7.6" text-anchor="middle" fill="#161616" stroke="#161616">1,0</text>
<text x="790.3" y="640.1" font-size="7.5" text-anchor="middle" fill="#161616" stroke="#161616">C25</text>
<text x="787.8" y="649.5" font-size="7.5" text-anchor="middle" fill="#161616" stroke="#161616">1000,0</text>
<text x="787.8" y="658.7" font-size="7.5" text-anchor="middle" fill="#161616" stroke="#161616">100 В</text>
<text x="846.5" y="684.7" font-size="7.6" text-anchor="middle" fill="#161616" stroke="#161616">R58  22</text>
<circle class="d" cx="1273.5" cy="691.5" r="2.3"/>
<circle class="d" cx="1296.9" cy="691.5" r="2.3"/>
<text x="1271" y="640.1" font-size="7.5" text-anchor="middle" fill="#161616" stroke="#161616">C58</text>
<text x="1271" y="649.5" font-size="7.5" text-anchor="middle" fill="#161616" stroke="#161616">1000,0</text>
<text x="1271" y="658.7" font-size="7.5" text-anchor="middle" fill="#161616" stroke="#161616">100 В</text>
<text x="1296.9" y="649.7" font-size="7.6" text-anchor="middle" fill="#161616" stroke="#161616">C60</text>
<text x="1296.9" y="658.5" font-size="7.6" text-anchor="middle" fill="#161616" stroke="#161616">1,0</text>
<circle class="d" cx="1320.1" cy="691.5" r="2.3"/>
<text x="1270.8" y="703.9" font-size="8.3" text-anchor="middle" fill="#333" stroke="#333">- 68 В</text>
<text x="1347" y="227.3" font-size="8.3" text-anchor="start" fill="#161616" stroke="#161616">VD15</text>
<text x="1347" y="236.6" font-size="8.3" text-anchor="start" fill="#161616" stroke="#161616">1N4007</text>
<text x="1347" y="248.3" font-size="8.3" text-anchor="start" fill="#161616" stroke="#161616">VD17</text>
<text x="1347" y="260.1" font-size="8.3" text-anchor="start" fill="#161616" stroke="#161616">1N4007</text>
<text x="1247" y="260.1" font-size="8.3" text-anchor="middle" fill="#161616" stroke="#161616">VD9</text>
<text x="1246" y="271.9" font-size="8.3" text-anchor="middle" fill="#161616" stroke="#161616">КД213Б</text>
<text x="1251" y="283.5" font-size="8.3" text-anchor="middle" fill="#161616" stroke="#161616">VD13</text>
<text x="1246" y="293.3" font-size="8.3" text-anchor="middle" fill="#161616" stroke="#161616">КД213Б</text>
<circle class="d" cx="1320.1" cy="288.5" r="2.3"/>
<text x="1404" y="290.8" font-size="8.3" text-anchor="start" fill="#161616" stroke="#161616">~50 В</text>
<circle class="d" cx="1343.5" cy="302.6" r="2.3"/>
<text x="1404" y="304.9" font-size="8.3" text-anchor="start" fill="#161616" stroke="#161616">~50 В</text>
<circle class="d" cx="1189.2" cy="256" r="2.3"/>
<text x="1169" y="267.6" font-size="8.3" text-anchor="middle" fill="#161616" stroke="#161616">Шасси</text>
<text x="1201.8" y="248.3" font-size="8.3" text-anchor="middle" fill="#161616" stroke="#161616">БП</text>
<text x="1203" y="274.4" font-size="8.3" text-anchor="middle" fill="#161616" stroke="#161616">R92</text>
<text x="1201.8" y="283.5" font-size="8.3" text-anchor="middle" fill="#161616" stroke="#161616">10</text>
<text x="1188.4" y="305.8" font-size="8.3" text-anchor="middle" fill="#161616" stroke="#161616">УН</text>
<circle class="d" cx="1254.6" cy="330.2" r="2.3"/>
<text x="1228.7" y="323.5" font-size="8.3" text-anchor="middle" fill="#161616" stroke="#161616">R96</text>
<text x="1228.7" y="342.6" font-size="8.3" text-anchor="middle" fill="#161616" stroke="#161616">10 к</text>
<text x="1255.9" y="314.2" font-size="8.3" text-anchor="middle" fill="#161616" stroke="#161616">C55</text>
<text x="1255.9" y="323.5" font-size="8.3" text-anchor="middle" fill="#161616" stroke="#161616">0,1</text>
<text x="1396.8" y="339.4" font-size="7.2" text-anchor="middle" fill="#161616" stroke="#161616">К устройству защиты АС</text>
<circle class="d" cx="1130" cy="375.4" r="2.3"/>
<text x="1142" y="396" font-size="8.3" text-anchor="middle" fill="#161616" stroke="#161616">R91</text>
<text x="1143.9" y="405.5" font-size="8.3" text-anchor="middle" fill="#161616" stroke="#161616">1,8 М</text>
<circle class="d" cx="1159" cy="420.1" r="2.3"/>
<text x="1150.2" y="363.3" font-size="8.3" text-anchor="middle" fill="#161616" stroke="#161616">K1.1</text>
<circle class="d" cx="1172.8" cy="368.5" r="2.3"/>
<circle class="d" cx="1182.4" cy="368.5" r="2.3"/>
<circle class="d" cx="1214.4" cy="368.5" r="2.3"/>
<circle class="d" cx="1224.4" cy="368.5" r="2.3"/>
<circle class="d" cx="1172.8" cy="420.1" r="2.3"/>
<text x="1196" y="408.1" font-size="8.3" text-anchor="middle" fill="#161616" stroke="#161616">C47  1500</text>
<text x="1195.5" y="340.3" font-size="8.3" text-anchor="middle" fill="#161616" stroke="#161616">L2</text>
<text x="1196.7" y="349.4" font-size="8.3" text-anchor="middle" fill="#161616" stroke="#161616">3 мкГн</text>
<text x="1201.8" y="391.6" font-size="8.3" text-anchor="middle" fill="#161616" stroke="#161616">R93 33</text>
<circle class="d" cx="1224.4" cy="420.1" r="2.3"/>
<text x="1201.8" y="431.5" font-size="8.3" text-anchor="middle" fill="#161616" stroke="#161616">R94  2,2к</text>
<text x="1235.7" y="391.4" font-size="8.3" text-anchor="middle" fill="#161616" stroke="#161616">C53</text>
<text x="1234.5" y="405.5" font-size="8.3" text-anchor="middle" fill="#161616" stroke="#161616">0,01</text>
<circle cx="1247.6" cy="368.5" r="2.6" fill="#fff" stroke="#e04a4a" stroke-width="1.1"/>
<circle cx="1401.9" cy="368.5" r="2.6" fill="#fff" stroke="#e04a4a" stroke-width="1.1"/>
<circle cx="1247.6" cy="422.1" r="2.6" fill="#fff" stroke="#e04a4a" stroke-width="1.1"/>
<circle cx="1401.9" cy="422.1" r="2.6" fill="#fff" stroke="#e04a4a" stroke-width="1.1"/>
<circle cx="1247.6" cy="438.5" r="2.6" fill="#fff" stroke="#e04a4a" stroke-width="1.1"/>
<text x="1383" y="394.3" font-size="8.3" text-anchor="middle" fill="#161616" stroke="#161616">BA1</text>
<text x="1383" y="403.2" font-size="8.3" text-anchor="middle" fill="#161616" stroke="#161616">8 Ом</text>
<text x="1210.6" y="454.1" font-size="8.3" text-anchor="middle" fill="#161616" stroke="#161616">C50</text>
<text x="1210.6" y="464.4" font-size="8.3" text-anchor="middle" fill="#161616" stroke="#161616">0,1</text>
<text x="1210.6" y="475.8" font-size="8.3" text-anchor="middle" fill="#161616" stroke="#161616">250 В</text>
<text x="1210.6" y="492.6" font-size="8.3" text-anchor="middle" fill="#161616" stroke="#161616">R95</text>
<text x="1211.8" y="502" font-size="8.3" text-anchor="middle" fill="#161616" stroke="#161616">11</text>
<text x="1253.9" y="471.3" font-size="8.3" text-anchor="middle" fill="#161616" stroke="#161616">VD12</text>
<text x="1248.8" y="480.8" font-size="8.3" text-anchor="middle" fill="#161616" stroke="#161616">КД213Б</text>
<text x="1252.9" y="490.1" font-size="8.3" text-anchor="middle" fill="#161616" stroke="#161616">VD14</text>
<text x="1248.8" y="499.7" font-size="8.3" text-anchor="middle" fill="#161616" stroke="#161616">КД213Б</text>
<circle class="d" cx="1273.5" cy="469" r="2.3"/>
<text x="1404" y="471.3" font-size="8.3" text-anchor="start" fill="#161616" stroke="#161616">~40 В</text>
<circle class="d" cx="1296.9" cy="485.3" r="2.3"/>
<text x="1404" y="487.6" font-size="8.3" text-anchor="start" fill="#161616" stroke="#161616">~40 В</text>
<text x="1363.6" y="452.3" font-size="8.3" text-anchor="middle" fill="#161616" stroke="#161616">FU1</text>
<text x="1363.6" y="461.9" font-size="8.3" text-anchor="middle" fill="#161616" stroke="#161616">7,5A</text>
<text x="1363.6" y="497.2" font-size="8.3" text-anchor="middle" fill="#161616" stroke="#161616">FU2</text>
<text x="1363.6" y="506.5" font-size="8.3" text-anchor="middle" fill="#161616" stroke="#161616">7,5A</text>
<text x="1347" y="520.3" font-size="8.3" text-anchor="start" fill="#161616" stroke="#161616">VD16</text>
<text x="1347" y="532.2" font-size="8.3" text-anchor="start" fill="#161616" stroke="#161616">1N4007</text>
<text x="1347" y="543.7" font-size="8.3" text-anchor="start" fill="#161616" stroke="#161616">VD18</text>
<text x="1347" y="553.5" font-size="8.3" text-anchor="start" fill="#161616" stroke="#161616">1N4007</text>
<circle class="d" cx="1381.2" cy="579.2" r="2.3"/>
<circle class="d" cx="1381.2" cy="605.4" r="2.3"/>
<text x="1368.6" y="572.4" font-size="8.3" text-anchor="middle" fill="#161616" stroke="#161616">VD19</text>
<text x="1398.9" y="572.4" font-size="8.3" text-anchor="middle" fill="#161616" stroke="#161616">1N4007</text>
<text x="1360.3" y="616" font-size="8.3" text-anchor="middle" fill="#161616" stroke="#161616">K1</text>
<text x="1389.3" y="626" font-size="8.3" text-anchor="middle" fill="#161616" stroke="#161616">JQX-14FA-24VDC-2C</text>
<text x="1384.3" y="635.6" font-size="8.3" text-anchor="middle" fill="#161616" stroke="#161616">16A, 28 В</text>
<text x="1153.2" y="705.6" font-size="7.5" text-anchor="middle" fill="#161616" stroke="#161616">1</text>
<text x="1167.3" y="705.6" font-size="7.5" text-anchor="middle" fill="#161616" stroke="#161616">2</text>
<text x="1184.1" y="705.6" font-size="7.5" text-anchor="middle" fill="#161616" stroke="#161616">3</text>
<text x="1154" y="677.3" font-size="8.3" text-anchor="middle" fill="#c8323c" stroke="#c8323c" font-style="normal" transform="rotate(-90 1154 675)">ООС1</text>
<text x="1167.8" y="677.3" font-size="8.3" text-anchor="middle" fill="#c8323c" stroke="#c8323c" font-style="normal" transform="rotate(-90 1167.8 675)">ООС2</text>
<text x="1185" y="662.1" font-size="7.2" text-anchor="middle" fill="#c8323c" stroke="none" transform="rotate(-90 1185 660.2)" textLength="53.5" lengthAdjust="spacingAndGlyphs">компенсатор</text>
<text x="301.5" y="713.8" font-size="8.6" text-anchor="middle" fill="#c8323c" stroke="none" textLength="54" lengthAdjust="spacingAndGlyphs">Примечания:</text>
<text x="249.2" y="732.2" font-size="8" text-anchor="start" fill="#26389a" stroke="none" textLength="114.5" lengthAdjust="spacingAndGlyphs">а) Каскады и узлы усилителя</text>
<text x="248" y="746.2" font-size="8" text-anchor="start" fill="#a82436" stroke="#a82436" textLength="1003.4" lengthAdjust="spacingAndGlyphs">1. Генератор тока входного дифкаскада VT5, VT6, VT7 задаёт все токи покоя транзисторов усилителя .  Ток этого генератора попределяется частным от Uбэ VT / R6. Прекращение тока через генератор запирает все каскады УН и ВК усилителя</text>
<text x="248" y="758.2" font-size="8" text-anchor="start" fill="#a82436" stroke="#a82436" textLength="902" lengthAdjust="spacingAndGlyphs">2. VT1, VT12 - входной дифкаскад.VT4, VT9 - транзисторы следящей параметрической линеаризации дифкаскада. VT3, VT11 - транзисторы разгрузки по напряжению низковольтных транзисторов дифкаскада и линеаризации.</text>
<text x="248" y="769.8" font-size="8" text-anchor="start" fill="#a82436" stroke="#a82436" textLength="849" lengthAdjust="spacingAndGlyphs">3. VT2, VT10 - генераторы тока в нагрузке входного дифкаскада, управляемые падением напряжения от протекания тока второго дифкаскада - VT16, VT17 и VT21, VT22 через транзистор токового зеркала VT20.</text>
<text x="248" y="781.5" font-size="8" text-anchor="start" fill="#a82436" stroke="#a82436" textLength="768.7" lengthAdjust="spacingAndGlyphs">4. VT8R13, VT20R33 - токовое зеркало, задающее ток покоя второго дифкаскада в зависимости от тока ГСТ входного дифкаскада и коэффициента отражения тока этим токовым зеркалом</text>
<text x="248" y="793.4" font-size="8" text-anchor="start" fill="#a82436" stroke="#a82436" textLength="949.6" lengthAdjust="spacingAndGlyphs">5. VT16, VT17 и VT21, VT22 - второй дифкаскад, выполненный на высоколинейных парах Баксандала. Этот дифкаскад работает совместно с токовым зеркалом VT19, VT24. Уровень вносимых искажений - 0,12% для сигнала в 40 В 20 кГц.</text>
<text x="248" y="805" font-size="8" text-anchor="start" fill="#a82436" stroke="#a82436" textLength="200" lengthAdjust="spacingAndGlyphs">6. VT23 - классический транзистор-термодатчик.</text>
<text x="248" y="816.9" font-size="8" text-anchor="start" fill="#a82436" stroke="#a82436" textLength="398" lengthAdjust="spacingAndGlyphs">7. VT26-VT39 - классический трёхкаскадный выходной повторитель по схеме с общим коллектором.</text>
<text x="249.2" y="830.5" font-size="8" text-anchor="start" fill="#26389a" stroke="none" textLength="106" lengthAdjust="spacingAndGlyphs">б) Вспомогательные узлы.</text>
<text x="248" y="844.4" font-size="8" text-anchor="start" fill="#a82436" stroke="#a82436" textLength="858" lengthAdjust="spacingAndGlyphs">1. На ОУ DA1.1, R29, R32 и C8, C9 собран интегратор для автоматической балансировки усилителя, что позволяет отказаться от входного разделительного конденсатора со свойственными ему искажениями.</text>
<text x="248" y="856.2" font-size="8" text-anchor="start" fill="#a82436" stroke="#a82436" textLength="873" lengthAdjust="spacingAndGlyphs">2. На ОУ DA1.2, R25, R27 и C10 собран компенсатор падения напряжения от протекания  по проводам кабеля АС нелинейного тока АС. Без компенсатора искажения на клеммах АС могут достичь уровня 0,2% и более.</text>
<text x="248" y="868.2" font-size="8" text-anchor="start" fill="#a82436" stroke="#a82436" textLength="979" lengthAdjust="spacingAndGlyphs">3. Токовая защита: VT25, R46*, R47 - датчик тока выходных транзисторов по падению напряжения на их эмитерных резисторах, VT14, VT15 - квазитиристорная ячейка памяти, VT13 - ключ управления генератором тока входного дифкаскада.</text>
<text x="248" y="882.2" font-size="8" text-anchor="start" fill="#b02cb8" stroke="none" textLength="848" lengthAdjust="spacingAndGlyphs">Сопротивление R48 150 Ом указано для случая установки VT26, VT27 на общем радиаторе в выходными транзисторами. При охлаждении VT26, VT27 путём естественной конвекции сопротивление R48 - 430 Ом.</text>
<text x="224.6" y="883.8" font-size="16" text-anchor="middle" fill="#d8323a" stroke="#d8323a" font-style="normal" font-weight="bold">!</text>
<text x="59.7" y="807.7" font-size="20" text-anchor="start" fill="#d42030" stroke="none" textLength="104.5" lengthAdjust="spacingAndGlyphs">МАСТЕР-2</text>
<text x="1281.3" y="889.9" font-size="13.5" text-anchor="start" fill="#2a8a2a" stroke="none" textLength="208" lengthAdjust="spacingAndGlyphs">Виктор Жуковский.  27.07 2015 г.</text>
</svg></body></html>
